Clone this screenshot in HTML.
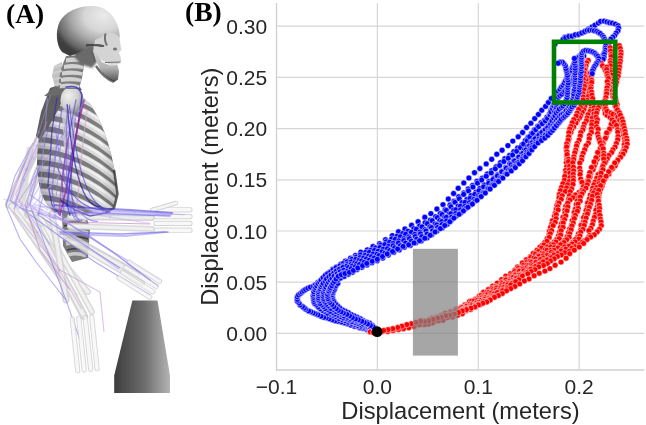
<!DOCTYPE html>
<html><head><meta charset="utf-8"><style>
html,body{margin:0;padding:0;background:#fff;}
body{width:646px;height:425px;overflow:hidden;}
svg{display:block;will-change:transform;}
text{font-family:"Liberation Sans",sans-serif;fill:#262626;}
</style></head><body>
<svg width="646" height="425" viewBox="0 0 646 425">
<rect width="646" height="425" fill="#fff"/>
<defs>
<linearGradient id="ped" x1="0" y1="0" x2="1" y2="0">
<stop offset="0" stop-color="#3c3c3c"/><stop offset="0.55" stop-color="#6e6e6e"/><stop offset="1" stop-color="#b4b4b4"/>
</linearGradient>
<linearGradient id="pedv" x1="0" y1="0" x2="0" y2="1">
<stop offset="0" stop-color="#fff" stop-opacity="0.12"/><stop offset="1" stop-color="#000" stop-opacity="0.05"/>
</linearGradient>
<radialGradient id="skullg" cx="0.74" cy="0.2" r="0.86">
<stop offset="0" stop-color="#eaeaea"/><stop offset="0.35" stop-color="#d6d6d6"/><stop offset="0.6" stop-color="#a8a8a8"/><stop offset="0.85" stop-color="#6a6a6a"/><stop offset="1" stop-color="#404040"/>
</radialGradient>
<linearGradient id="mandg" x1="0" y1="0" x2="0" y2="1">
<stop offset="0" stop-color="#d0d0d0"/><stop offset="0.55" stop-color="#b4b4b4"/><stop offset="1" stop-color="#505050"/>
</linearGradient>
<linearGradient id="faceg" x1="0" y1="0" x2="1" y2="0">
<stop offset="0" stop-color="#9a9a9a"/><stop offset="0.6" stop-color="#d8d8d8"/><stop offset="1" stop-color="#bdbdbd"/>
</linearGradient>
<linearGradient id="ribg" x1="0" y1="0" x2="1" y2="0">
<stop offset="0" stop-color="#8a8a8a"/><stop offset="0.35" stop-color="#c4c4c4"/><stop offset="0.8" stop-color="#cfcfcf"/><stop offset="1" stop-color="#8c8c8c"/>
</linearGradient>
<radialGradient id="humg" cx="0.35" cy="0.35" r="0.7">
<stop offset="0" stop-color="#f0f0f0"/><stop offset="0.6" stop-color="#cfcfcf"/><stop offset="1" stop-color="#8a8a8a"/>
</radialGradient>
<linearGradient id="boneg" x1="0" y1="0" x2="0" y2="1">
<stop offset="0" stop-color="#f2f2f2"/><stop offset="0.5" stop-color="#e2e2e2"/><stop offset="1" stop-color="#c4c4c4"/>
</linearGradient>
<linearGradient id="ribshade" x1="0" y1="0" x2="1" y2="0">
<stop offset="0" stop-color="#000" stop-opacity="0.35"/><stop offset="0.3" stop-color="#000" stop-opacity="0.05"/><stop offset="0.75" stop-color="#000" stop-opacity="0"/><stop offset="1" stop-color="#000" stop-opacity="0.3"/>
</linearGradient>
<clipPath id="ribclip"><path d="M52,96 C62,88 80,92 90,104 C102,120 112,150 116,180 C118,196 116,206 110,211 L80,214 L55,212 C44,205 38,190 37,165 C37,140 42,112 52,96 Z"/></clipPath>
<filter id="bl1" x="-10%" y="-10%" width="120%" height="120%"><feGaussianBlur stdDeviation="0.6"/></filter>
<filter id="bl2" x="-10%" y="-10%" width="120%" height="120%"><feGaussianBlur stdDeviation="1.2"/></filter>
</defs>
<!-- lumbar spine -->
<g filter="url(#bl1)">
<path d="M62,212 L84,210 L90,228 L88,258 L72,262 L63,246 Z" fill="#7c7c7c"/>
<path d="M64,220 Q75,217 86,221 M65,232 Q76,229 88,233 M66,244 Q77,241 88,245 M68,255 Q77,252 86,256" stroke="#c8c8c8" stroke-width="3.5" fill="none"/>
<path d="M64,226 Q75,223 87,227 M66,238 Q77,235 88,239 M67,250 Q77,247 87,251" stroke="#3e3e3e" stroke-width="1.6" fill="none"/>
</g>
<!-- faint lower arms / hands -->
<g stroke-linecap="round" fill="none" opacity="0.85">
<path d="M46,126 L10,204" stroke="#cacaca" stroke-width="10"/>
<path d="M46,126 L10,204" stroke="#ececec" stroke-width="6"/>
<path d="M54,132 L22,212" stroke="#d0d0d0" stroke-width="8"/>
<path d="M54,132 L22,212" stroke="#eeeeee" stroke-width="4"/>
<path d="M12,206 L74,296" stroke="#cfcfcf" stroke-width="8"/>
<path d="M12,206 L74,296" stroke="#efefef" stroke-width="4"/>
<path d="M20,210 L88,292" stroke="#d6d6d6" stroke-width="6"/>
<path d="M20,210 L88,292" stroke="#f0f0f0" stroke-width="3"/>
<path d="M28,214 L100,254 L136,274" stroke="#cccccc" stroke-width="8"/>
<path d="M28,214 L100,254 L136,274" stroke="#ededed" stroke-width="4"/>
<path d="M36,220 L106,262 L142,283" stroke="#d2d2d2" stroke-width="6"/>
<path d="M36,220 L106,262 L142,283" stroke="#f0f0f0" stroke-width="3"/>
<path d="M30,150 L22,200" stroke="#d8d8d8" stroke-width="7"/>
<path d="M30,214 L84,316" stroke="#cdcdcd" stroke-width="8"/>
<path d="M30,214 L84,316" stroke="#eeeeee" stroke-width="4"/>
<path d="M40,216 L92,312" stroke="#d4d4d4" stroke-width="6"/>
<path d="M40,216 L92,312" stroke="#f0f0f0" stroke-width="3"/>
<path d="M52,214 L66,300" stroke="#d0d0d0" stroke-width="7"/>
<path d="M52,214 L66,300" stroke="#ededed" stroke-width="3.5"/>
</g>
<g opacity="0.6" fill="none" stroke-width="1.1">
<path d="M33,143 L15,176 L6,206 L20,239 L36,262 L66,300 L80,340" stroke="#8a7ae8"/>
<path d="M40,140 L22,180 L14,212 L60,270 L100,292 L104,332" stroke="#c09ad8"/>
<path d="M30,150 L10,200 L95,262 L150,295" stroke="#7a6af0"/>
<path d="M45,150 L30,195 L110,250 L160,280" stroke="#9a8af0"/>
<path d="M42,160 L25,205 L40,250 L70,290" stroke="#b080c8"/>
<path d="M50,170 L38,215 L120,268" stroke="#8070e0"/>
<path d="M38,135 L20,170 L12,200" stroke="#d0a0d0"/>
<path d="M48,140 L32,180 L26,210 L50,245" stroke="#a090e8"/>
</g>
<!-- hands lower -->
<g fill="none" stroke-linecap="round" opacity="0.75">
<g stroke="#c8c8c8" stroke-width="5.2"><path d="M156.0,209.8 L190.0,209.8"/><path d="M156.0,216.6 L190.0,216.6"/><path d="M156.0,223.4 L190.0,223.4"/><path d="M156.0,230.2 L190.0,230.2"/><path d="M128.9,262.1 L159.5,281.2"/><path d="M125.6,267.4 L156.2,286.4"/><path d="M122.4,272.6 L152.9,291.7"/><path d="M119.1,277.9 L149.6,297.0"/><path d="M91.7,317.0 L97.1,368.7"/><path d="M85.2,317.7 L90.7,369.4"/><path d="M78.8,318.3 L84.2,370.1"/><path d="M72.3,319.0 L77.7,370.7"/></g>
<g stroke="#f6f6f6" stroke-width="3.4"><path d="M156.0,209.8 L190.0,209.8"/><path d="M156.0,216.6 L190.0,216.6"/><path d="M156.0,223.4 L190.0,223.4"/><path d="M156.0,230.2 L190.0,230.2"/><path d="M128.9,262.1 L159.5,281.2"/><path d="M125.6,267.4 L156.2,286.4"/><path d="M122.4,272.6 L152.9,291.7"/><path d="M119.1,277.9 L149.6,297.0"/><path d="M91.7,317.0 L97.1,368.7"/><path d="M85.2,317.7 L90.7,369.4"/><path d="M78.8,318.3 L84.2,370.1"/><path d="M72.3,319.0 L77.7,370.7"/></g>
<path d="M152,210 L166,206 L176,203" stroke="#c4c4c4" stroke-width="4.5"/>
<path d="M152,210 L166,206 L176,203" stroke="#f4f4f4" stroke-width="2.8"/>
</g>
<!-- ribcage -->
<g clip-path="url(#ribclip)">
<rect x="30" y="85" width="95" height="135" fill="#7e7e7e"/>
<g stroke="#dcdcdc" stroke-width="6.2" fill="none" filter="url(#bl1)"><path d="M36,76.0 C60,77.0 92,86.0 124,118.0"/><path d="M36,87.5 C60,88.5 92,97.5 124,129.5"/><path d="M36,99.0 C60,100.0 92,109.0 124,141.0"/><path d="M36,110.5 C60,111.5 92,120.5 124,152.5"/><path d="M36,122.0 C60,123.0 92,132.0 124,164.0"/><path d="M36,133.5 C60,134.5 92,143.5 124,175.5"/><path d="M36,145.0 C60,146.0 92,155.0 124,187.0"/><path d="M36,156.5 C60,157.5 92,166.5 124,198.5"/><path d="M36,168.0 C60,169.0 92,178.0 124,210.0"/><path d="M36,179.5 C60,180.5 92,189.5 124,221.5"/><path d="M36,191.0 C60,192.0 92,201.0 124,233.0"/><path d="M36,202.5 C60,203.5 92,212.5 124,244.5"/><path d="M36,214.0 C60,215.0 92,224.0 124,256.0"/></g>
<g stroke="#fafafa" stroke-width="2.2" fill="none" opacity="0.75" transform="translate(0,-1.2)"><path d="M36,76.0 C60,77.0 92,86.0 124,118.0"/><path d="M36,87.5 C60,88.5 92,97.5 124,129.5"/><path d="M36,99.0 C60,100.0 92,109.0 124,141.0"/><path d="M36,110.5 C60,111.5 92,120.5 124,152.5"/><path d="M36,122.0 C60,123.0 92,132.0 124,164.0"/><path d="M36,133.5 C60,134.5 92,143.5 124,175.5"/><path d="M36,145.0 C60,146.0 92,155.0 124,187.0"/><path d="M36,156.5 C60,157.5 92,166.5 124,198.5"/><path d="M36,168.0 C60,169.0 92,178.0 124,210.0"/><path d="M36,179.5 C60,180.5 92,189.5 124,221.5"/><path d="M36,191.0 C60,192.0 92,201.0 124,233.0"/><path d="M36,202.5 C60,203.5 92,212.5 124,244.5"/><path d="M36,214.0 C60,215.0 92,224.0 124,256.0"/></g>
<rect x="30" y="85" width="95" height="135" fill="url(#ribshade)"/>
</g>
<path d="M114,170 L117.5,194 L114,208 L106,212" stroke="#3a3a3a" stroke-width="2.5" fill="none" opacity="0.8"/>
<!-- scapula -->
<path d="M50,88 L62,84 L66,92 L58,110 L48,128 L40,140 L36,136 L41,112 Z" fill="#5e5e5e" filter="url(#bl1)"/>
<path d="M44,96 L56,86 L78,84 L82,90 L64,95 Z" fill="#6a6a6a" filter="url(#bl1)"/>
<!-- humerus head + shaft -->
<path d="M62,110 L74,110 L76,150 L64,150 Z" fill="#cfcfcf" opacity="0.8"/>
<ellipse cx="72" cy="100" rx="11.5" ry="13.5" fill="url(#humg)"/>
<!-- neck -->
<g filter="url(#bl1)">
<path d="M54,66 L62,62 L62,88 L55,86 L52,76 Z" fill="#a8a8a8" opacity="0.7"/>
<path d="M66,56 L83,56 L84,66 L82,78 L79,89 L59,89 L59,78 L62,66 Z" fill="#7e7e7e"/>
<g fill="#d2d2d2">
<path d="M66,58.5 Q75,56 84,59.5 L83,62.5 Q75,61 66,62.5 Z"/>
<path d="M64,65 Q74,62.5 84,66 L83,69 Q74,67.5 64,69 Z"/>
<path d="M62,71.5 Q73,69 83,72.5 L82,75.5 Q73,74 62,75.5 Z"/>
<path d="M61,78 Q71,75.5 82,79 L80.5,82 Q71,80.5 61,82 Z"/>
<path d="M60,84.5 Q70,82 80,85.5 L78.5,88 Q70,87 60,88 Z"/>
</g>
<path d="M55,67 L62,65 M54,73 L61,71 M54,79 L60,78 M55,85 L60,84" stroke="#cfcfcf" stroke-width="2.2" stroke-linecap="round"/>
</g>
<!-- skull -->
<path d="M78,46 L94,44 L97,62 L92,68 L80,64 L74,56 Z" fill="#6a6a6a" filter="url(#bl2)"/>
<path d="M62,52 C56,45 55.5,31 59.5,22 C65,12 77,6 92,6 C104,6 113,13 117.5,25 C119.5,31 120,35 119.5,38 L108,40 L97,44 L88,48 L80,52 L70,56 Z" fill="url(#skullg)"/>
<path d="M58,30 C57,42 62,52 72,56 L80,52 C70,48 62,40 58,30 Z" fill="#3a3a3a" opacity="0.55" filter="url(#bl2)"/>
<path d="M95,40 L110,33 Q117,33 119.5,38 L120.5,45 L121.5,50 L118.5,52.5 L120.5,56 L121.2,62 L118,64.5 L110,65 L101,60 L93,52 Z" fill="#d4d4d4" filter="url(#bl1)"/>
<path d="M92,50 L96,60 L100,69 Q107,79 114.5,82 L118,79.5 L119,71 L117.5,65 L110,65.5 L102,62 L96,53 Z" fill="url(#mandg)"/>
<path d="M86,45.5 Q95,43.5 104,46.5" stroke="#3a3a3a" stroke-width="2.6" fill="none" opacity="0.8" filter="url(#bl1)"/>
<path d="M105.5,33.5 Q103.8,40 107,45.5" stroke="#4a4a4a" stroke-width="2" fill="none" opacity="0.7" filter="url(#bl1)"/>
<ellipse cx="115" cy="49" rx="2" ry="1.6" fill="#4a4a4a" opacity="0.7"/>
<path d="M105,62.5 L120.5,62" stroke="#555" stroke-width="1.1" opacity="0.8"/>
<path d="M96,66 Q104,78 114,82" stroke="#333" stroke-width="2.4" fill="none" opacity="0.7" filter="url(#bl1)"/>
<path d="M92,50 L95,62" stroke="#555" stroke-width="1.6" opacity="0.6" filter="url(#bl1)"/>
<!-- horizontal forearm & hand -->
<g stroke-linecap="round" fill="none">
<path d="M70,217 L152,218" stroke="#d4d4d4" stroke-width="6"/>
<path d="M70,226 L152,229" stroke="#dadada" stroke-width="6"/>
<path d="M70,217 L152,218" stroke="#ececec" stroke-width="3"/>
<path d="M70,226 L152,229" stroke="#f0f0f0" stroke-width="3"/>

</g>
<g fill="none" stroke-linecap="round">
<path d="M57,98 L52,130 L50,160 L48,185 L52,205 L60,215" stroke="#3a2ac0" stroke-width="1.4" opacity="0.7"/>
<path d="M66,87 Q80,84 82,96 L79,118 L74,150 L70,182 L67,205 L70,215" stroke="#3020c0" stroke-width="1.5" opacity="0.75"/>
<path d="M84,100 L78,125 L72,155 L66,190 L60,215" stroke="#a02a90" stroke-width="1.6" opacity="0.85"/>
<path d="M62,108 L56,150 L52,190 L55,212" stroke="#7060e0" stroke-width="1.4" opacity="0.65"/>
<path d="M87,110 L82,150 L79,185 L76,215" stroke="#d8a0d0" stroke-width="1.3" opacity="0.6"/>
<path d="M76,100 L68,140 L62,180 L64,212" stroke="#5040d0" stroke-width="1.3" opacity="0.6"/>
<path d="M70,104 L60,150 L56,200" stroke="#9070e0" stroke-width="1.1" opacity="0.5"/>
<path d="M55,205 L90,208 L130,210 L172,213" stroke="#3a2ad0" stroke-width="2.2" opacity="0.55"/>
<path d="M58,212 L120,214 L170,216" stroke="#6a5af0" stroke-width="1.6" opacity="0.6"/>
<path d="M60,232 L120,234 L168,232" stroke="#6a5af0" stroke-width="1.4" opacity="0.6"/>
<path d="M62,222 L150,224" stroke="#c070c0" stroke-width="1" opacity="0.6"/>
<path d="M55,215 L110,250 L150,280" stroke="#7a6af0" stroke-width="1.3" opacity="0.55"/>
<path d="M60,218 L118,256 L158,286" stroke="#9a8af0" stroke-width="1.1" opacity="0.5"/>
<path d="M48,130 L30,205 L66,300" stroke="#6a5ae8" stroke-width="1" opacity="0.5"/>
<path d="M60,200 L75,210 L90,216 L110,212" stroke="#2010a0" stroke-width="1.6" opacity="0.6"/>
</g>
<g fill="none" stroke-linecap="round"><path d="M58.1,177.5 L33.5,204.8 L149.6,223.3" stroke="#b8a8f4" stroke-width="1.2" opacity="0.47"/><circle cx="50.0" cy="186.5" r="1.4" fill="#b8a8f4" opacity="0.37"/><circle cx="41.9" cy="195.5" r="1.4" fill="#b8a8f4" opacity="0.37"/><circle cx="71.8" cy="210.9" r="1.4" fill="#b8a8f4" opacity="0.37"/><circle cx="110.1" cy="217.0" r="1.4" fill="#b8a8f4" opacity="0.37"/><path d="M47.4,98.6 L39.0,206.5 L184.0,214.6" stroke="#a898f4" stroke-width="1.4" opacity="0.45"/><circle cx="44.6" cy="134.2" r="1.4" fill="#a898f4" opacity="0.36"/><circle cx="41.9" cy="169.8" r="1.4" fill="#a898f4" opacity="0.36"/><circle cx="86.9" cy="209.1" r="1.4" fill="#a898f4" opacity="0.36"/><circle cx="134.7" cy="211.8" r="1.4" fill="#a898f4" opacity="0.36"/><path d="M74.2,221.1 L33.0,203.2" stroke="#b8a8f4" stroke-width="1.0" opacity="0.36"/><circle cx="60.6" cy="215.2" r="1.4" fill="#b8a8f4" opacity="0.29"/><circle cx="47.0" cy="209.3" r="1.4" fill="#b8a8f4" opacity="0.29"/><path d="M84.2,101.3 L28.8,206.1" stroke="#8878f0" stroke-width="1.3" opacity="0.36"/><circle cx="65.9" cy="135.9" r="1.4" fill="#8878f0" opacity="0.29"/><circle cx="47.6" cy="170.5" r="1.4" fill="#8878f0" opacity="0.29"/><path d="M85.2,100.8 L13.7,208.8" stroke="#9c8cf0" stroke-width="1.0" opacity="0.57"/><circle cx="61.6" cy="136.4" r="1.4" fill="#9c8cf0" opacity="0.46"/><circle cx="38.0" cy="172.1" r="1.4" fill="#9c8cf0" opacity="0.46"/><path d="M69.0,222.6 L22.7,208.4" stroke="#8878f0" stroke-width="1.0" opacity="0.57"/><circle cx="53.7" cy="217.9" r="1.4" fill="#8878f0" opacity="0.45"/><circle cx="38.5" cy="213.3" r="1.4" fill="#8878f0" opacity="0.45"/><path d="M50.6,95.3 L14.4,206.8" stroke="#a898f4" stroke-width="0.9" opacity="0.49"/><circle cx="38.6" cy="132.1" r="1.4" fill="#a898f4" opacity="0.39"/><circle cx="26.7" cy="168.9" r="1.4" fill="#a898f4" opacity="0.39"/><path d="M69.4,222.9 L27.2,203.1 L118.7,269.3" stroke="#a898f4" stroke-width="1.3" opacity="0.52"/><circle cx="55.4" cy="216.3" r="1.4" fill="#a898f4" opacity="0.42"/><circle cx="41.5" cy="209.8" r="1.4" fill="#a898f4" opacity="0.42"/><circle cx="57.4" cy="224.9" r="1.4" fill="#a898f4" opacity="0.42"/><circle cx="87.6" cy="246.8" r="1.4" fill="#a898f4" opacity="0.42"/><path d="M69.0,223.6 L15.4,200.8" stroke="#d8a8d8" stroke-width="1.3" opacity="0.45"/><circle cx="51.3" cy="216.1" r="1.4" fill="#d8a8d8" opacity="0.36"/><circle cx="33.6" cy="208.6" r="1.4" fill="#d8a8d8" opacity="0.36"/><path d="M42.9,136.9 L14.6,202.4" stroke="#a898f4" stroke-width="1.4" opacity="0.42"/><circle cx="33.6" cy="158.5" r="1.4" fill="#a898f4" opacity="0.34"/><circle cx="24.2" cy="180.1" r="1.4" fill="#a898f4" opacity="0.34"/><path d="M71.0,222.9 L4.0,199.3" stroke="#a898f4" stroke-width="1.1" opacity="0.43"/><circle cx="48.9" cy="215.1" r="1.4" fill="#a898f4" opacity="0.35"/><circle cx="26.8" cy="207.3" r="1.4" fill="#a898f4" opacity="0.35"/><path d="M47.0,121.8 L15.7,194.5 L81.4,308.7" stroke="#c090d0" stroke-width="1.3" opacity="0.40"/><circle cx="36.7" cy="145.8" r="1.4" fill="#c090d0" opacity="0.32"/><circle cx="26.3" cy="169.8" r="1.4" fill="#c090d0" opacity="0.32"/><circle cx="37.4" cy="232.2" r="1.4" fill="#c090d0" opacity="0.32"/><circle cx="59.0" cy="269.9" r="1.4" fill="#c090d0" opacity="0.32"/><path d="M67.2,104.6 Q75.8,208.6 100.3,206.6" stroke="#2818b0" stroke-width="1.4" opacity="0.69"/><path d="M67.1,109.7 Q63.2,218.8 75.3,216.8" stroke="#6a5af0" stroke-width="1.0" opacity="0.68"/><path d="M75.5,118.4 Q63.0,209.0 66.5,207.0" stroke="#4a3ae0" stroke-width="1.0" opacity="0.42"/><path d="M55.1,127.2 Q68.5,223.4 97.8,221.4" stroke="#6a5af0" stroke-width="1.2" opacity="0.54"/><path d="M57.4,167.3 Q74.4,212.0 107.3,210.0" stroke="#3a28d8" stroke-width="1.1" opacity="0.54"/><path d="M71.9,153.5 Q68.9,222.1 81.8,220.1" stroke="#4a3ae0" stroke-width="1.5" opacity="0.48"/><path d="M68.3,142.6 Q65.9,222.7 79.4,220.7" stroke="#6a5af0" stroke-width="1.4" opacity="0.45"/><path d="M69.4,105.9 Q81.5,210.8 109.6,208.8" stroke="#3a28d8" stroke-width="1.2" opacity="0.54"/><path d="M68.1,138.2 Q56.5,216.3 60.8,214.3" stroke="#9a40b0" stroke-width="1.8" opacity="0.56"/><path d="M90,212 L140,213 L170,214" stroke="#9a90f4" stroke-width="4" opacity="0.45"/><path d="M60,234 L125,236 L165,232" stroke="#8a80f0" stroke-width="2" opacity="0.5"/></g>

<!-- pedestal -->
<path d="M132.4,300.4 L157.5,300.4 L170,375.5 L170,393 L114.2,393 L114.2,375.5 Z" fill="url(#ped)"/>

<g stroke="#d6d6d6" stroke-width="1.2"><line x1="377.4" y1="3" x2="377.4" y2="370"/><line x1="478.3" y1="3" x2="478.3" y2="370"/><line x1="579.2" y1="3" x2="579.2" y2="370"/><line x1="276" y1="333.4" x2="644.3" y2="333.4"/><line x1="276" y1="282.2" x2="644.3" y2="282.2"/><line x1="276" y1="231.0" x2="644.3" y2="231.0"/><line x1="276" y1="179.8" x2="644.3" y2="179.8"/><line x1="276" y1="128.6" x2="644.3" y2="128.6"/><line x1="276" y1="77.4" x2="644.3" y2="77.4"/><line x1="276" y1="26.2" x2="644.3" y2="26.2"/></g>
<g stroke="#cfcfcf" stroke-width="1.3"><line x1="276.5" y1="3" x2="276.5" y2="370.5"/><line x1="276" y1="370" x2="644.3" y2="370"/></g>
<g fill="#0000ff" stroke="#fff" stroke-width="0.5"><circle cx="375.9" cy="331.6" r="2.95"/><circle cx="372.7" cy="331.0" r="2.95"/><circle cx="369.5" cy="330.1" r="2.95"/><circle cx="366.8" cy="329.5" r="2.95"/><circle cx="363.3" cy="328.4" r="2.95"/><circle cx="360.1" cy="327.9" r="2.95"/><circle cx="357.3" cy="326.5" r="2.95"/><circle cx="354.3" cy="326.2" r="2.95"/><circle cx="350.8" cy="325.1" r="2.95"/><circle cx="347.3" cy="323.7" r="2.95"/><circle cx="344.4" cy="322.9" r="2.95"/><circle cx="341.1" cy="322.1" r="2.95"/><circle cx="337.9" cy="321.3" r="2.95"/><circle cx="335.1" cy="320.7" r="2.95"/><circle cx="332.2" cy="319.7" r="2.95"/><circle cx="329.2" cy="318.8" r="2.95"/><circle cx="326.3" cy="317.7" r="2.95"/><circle cx="323.8" cy="317.3" r="2.95"/><circle cx="321.0" cy="316.2" r="2.95"/><circle cx="317.9" cy="314.8" r="2.95"/><circle cx="315.3" cy="313.7" r="2.95"/><circle cx="313.2" cy="312.9" r="2.95"/><circle cx="310.8" cy="311.8" r="2.95"/><circle cx="308.6" cy="310.9" r="2.95"/><circle cx="305.7" cy="309.2" r="2.95"/><circle cx="304.3" cy="308.0" r="2.95"/><circle cx="302.5" cy="306.5" r="2.95"/><circle cx="300.1" cy="305.0" r="2.95"/><circle cx="299.1" cy="303.1" r="2.95"/><circle cx="297.4" cy="301.2" r="2.95"/><circle cx="297.3" cy="299.4" r="2.95"/><circle cx="297.3" cy="296.9" r="2.95"/><circle cx="298.5" cy="295.0" r="2.95"/><circle cx="300.6" cy="293.4" r="2.95"/><circle cx="302.1" cy="292.1" r="2.95"/><circle cx="303.7" cy="290.8" r="2.95"/><circle cx="305.6" cy="289.5" r="2.95"/><circle cx="307.9" cy="288.3" r="2.95"/><circle cx="310.4" cy="287.2" r="2.95"/><circle cx="313.5" cy="286.3" r="2.95"/><circle cx="315.4" cy="284.7" r="2.95"/><circle cx="317.8" cy="282.4" r="2.95"/><circle cx="320.9" cy="280.3" r="2.95"/><circle cx="323.1" cy="278.1" r="2.95"/><circle cx="325.9" cy="274.9" r="2.95"/><circle cx="329.5" cy="272.2" r="2.95"/><circle cx="332.7" cy="269.3" r="2.95"/><circle cx="336.5" cy="267.0" r="2.95"/><circle cx="340.8" cy="264.1" r="2.95"/><circle cx="345.3" cy="261.1" r="2.95"/><circle cx="350.5" cy="258.1" r="2.95"/><circle cx="355.5" cy="255.4" r="2.95"/><circle cx="360.8" cy="252.2" r="2.95"/><circle cx="367.3" cy="249.9" r="2.95"/><circle cx="373.0" cy="246.5" r="2.95"/><circle cx="379.6" cy="243.6" r="2.95"/><circle cx="385.5" cy="239.7" r="2.95"/><circle cx="392.3" cy="235.6" r="2.95"/><circle cx="398.5" cy="231.8" r="2.95"/><circle cx="404.9" cy="229.0" r="2.95"/><circle cx="411.6" cy="225.3" r="2.95"/><circle cx="418.1" cy="221.7" r="2.95"/><circle cx="424.8" cy="217.3" r="2.95"/><circle cx="430.9" cy="213.6" r="2.95"/><circle cx="436.9" cy="209.0" r="2.95"/><circle cx="443.0" cy="204.6" r="2.95"/><circle cx="448.3" cy="199.0" r="2.95"/><circle cx="453.6" cy="193.5" r="2.95"/><circle cx="458.2" cy="188.3" r="2.95"/><circle cx="463.8" cy="182.9" r="2.95"/><circle cx="468.9" cy="178.0" r="2.95"/><circle cx="474.5" cy="172.7" r="2.95"/><circle cx="479.9" cy="168.5" r="2.95"/><circle cx="486.2" cy="163.9" r="2.95"/><circle cx="491.7" cy="159.3" r="2.95"/><circle cx="496.8" cy="154.2" r="2.95"/><circle cx="502.1" cy="150.2" r="2.95"/><circle cx="507.9" cy="145.6" r="2.95"/><circle cx="512.8" cy="141.1" r="2.95"/><circle cx="518.2" cy="136.8" r="2.95"/><circle cx="522.6" cy="132.5" r="2.95"/><circle cx="526.6" cy="127.5" r="2.95"/><circle cx="530.9" cy="123.2" r="2.95"/><circle cx="534.7" cy="118.6" r="2.95"/><circle cx="538.4" cy="114.4" r="2.95"/><circle cx="541.8" cy="110.2" r="2.95"/><circle cx="545.6" cy="106.4" r="2.95"/><circle cx="548.4" cy="102.5" r="2.95"/><circle cx="551.3" cy="98.5" r="2.95"/><circle cx="555.0" cy="43.9" r="2.95"/><circle cx="562.7" cy="39.9" r="2.95"/><circle cx="564.8" cy="37.2" r="2.95"/><circle cx="568.7" cy="36.3" r="2.95"/><circle cx="573.5" cy="35.9" r="2.95"/><circle cx="577.6" cy="34.9" r="2.95"/><circle cx="581.4" cy="32.9" r="2.95"/><circle cx="585.2" cy="31.0" r="2.95"/><circle cx="588.5" cy="29.0" r="2.95"/><circle cx="592.0" cy="27.0" r="2.95"/><circle cx="594.9" cy="25.2" r="2.95"/><circle cx="598.3" cy="23.1" r="2.95"/><circle cx="600.6" cy="21.4" r="2.95"/><circle cx="604.2" cy="21.1" r="2.95"/><circle cx="607.0" cy="21.9" r="2.95"/><circle cx="609.6" cy="22.7" r="2.95"/><circle cx="612.3" cy="23.1" r="2.95"/><circle cx="615.3" cy="24.1" r="2.95"/><circle cx="618.0" cy="25.7" r="2.95"/><circle cx="618.6" cy="28.0" r="2.95"/><circle cx="617.9" cy="30.8" r="2.95"/><circle cx="616.1" cy="33.1" r="2.95"/><circle cx="614.6" cy="35.6" r="2.95"/><circle cx="612.8" cy="37.2" r="2.95"/><circle cx="610.7" cy="39.2" r="2.95"/><circle cx="608.9" cy="41.8" r="2.95"/><circle cx="608.3" cy="44.1" r="2.95"/><circle cx="606.9" cy="46.8" r="2.95"/><circle cx="606.0" cy="49.4" r="2.95"/><circle cx="604.7" cy="52.1" r="2.95"/><circle cx="603.4" cy="54.5" r="2.95"/><circle cx="603.0" cy="56.5" r="2.95"/><circle cx="602.4" cy="59.4" r="2.95"/><circle cx="601.2" cy="61.7" r="2.95"/><circle cx="376.6" cy="331.9" r="2.95"/><circle cx="374.3" cy="331.1" r="2.95"/><circle cx="371.3" cy="329.8" r="2.95"/><circle cx="368.0" cy="328.6" r="2.95"/><circle cx="364.8" cy="327.9" r="2.95"/><circle cx="361.4" cy="326.7" r="2.95"/><circle cx="357.8" cy="325.7" r="2.95"/><circle cx="355.1" cy="324.6" r="2.95"/><circle cx="351.5" cy="323.3" r="2.95"/><circle cx="348.1" cy="322.2" r="2.95"/><circle cx="345.3" cy="320.6" r="2.95"/><circle cx="341.6" cy="319.5" r="2.95"/><circle cx="338.8" cy="318.5" r="2.95"/><circle cx="335.7" cy="316.7" r="2.95"/><circle cx="333.0" cy="315.4" r="2.95"/><circle cx="330.2" cy="314.1" r="2.95"/><circle cx="327.2" cy="313.2" r="2.95"/><circle cx="324.4" cy="311.3" r="2.95"/><circle cx="322.3" cy="310.3" r="2.95"/><circle cx="320.2" cy="308.8" r="2.95"/><circle cx="318.2" cy="307.0" r="2.95"/><circle cx="316.5" cy="305.0" r="2.95"/><circle cx="314.7" cy="303.4" r="2.95"/><circle cx="313.9" cy="301.5" r="2.95"/><circle cx="313.7" cy="299.4" r="2.95"/><circle cx="313.6" cy="297.4" r="2.95"/><circle cx="313.2" cy="295.3" r="2.95"/><circle cx="313.9" cy="293.8" r="2.95"/><circle cx="313.9" cy="291.8" r="2.95"/><circle cx="315.1" cy="289.8" r="2.95"/><circle cx="315.7" cy="287.6" r="2.95"/><circle cx="316.8" cy="285.9" r="2.95"/><circle cx="318.1" cy="283.6" r="2.95"/><circle cx="319.8" cy="282.0" r="2.95"/><circle cx="321.1" cy="280.1" r="2.95"/><circle cx="323.1" cy="277.8" r="2.95"/><circle cx="325.3" cy="275.4" r="2.95"/><circle cx="327.7" cy="273.6" r="2.95"/><circle cx="330.7" cy="271.9" r="2.95"/><circle cx="333.1" cy="269.6" r="2.95"/><circle cx="336.1" cy="267.6" r="2.95"/><circle cx="340.0" cy="265.8" r="2.95"/><circle cx="343.4" cy="263.5" r="2.95"/><circle cx="347.1" cy="261.8" r="2.95"/><circle cx="351.9" cy="259.3" r="2.95"/><circle cx="356.3" cy="257.0" r="2.95"/><circle cx="360.5" cy="254.8" r="2.95"/><circle cx="365.7" cy="252.5" r="2.95"/><circle cx="370.5" cy="250.3" r="2.95"/><circle cx="375.6" cy="247.9" r="2.95"/><circle cx="380.8" cy="244.9" r="2.95"/><circle cx="386.2" cy="241.7" r="2.95"/><circle cx="391.7" cy="238.9" r="2.95"/><circle cx="397.0" cy="236.2" r="2.95"/><circle cx="402.7" cy="233.5" r="2.95"/><circle cx="408.0" cy="231.2" r="2.95"/><circle cx="413.9" cy="228.6" r="2.95"/><circle cx="419.6" cy="226.0" r="2.95"/><circle cx="425.1" cy="222.8" r="2.95"/><circle cx="430.3" cy="220.1" r="2.95"/><circle cx="435.7" cy="216.6" r="2.95"/><circle cx="440.4" cy="213.5" r="2.95"/><circle cx="445.1" cy="209.7" r="2.95"/><circle cx="450.0" cy="205.0" r="2.95"/><circle cx="454.1" cy="201.2" r="2.95"/><circle cx="458.7" cy="196.8" r="2.95"/><circle cx="463.7" cy="193.0" r="2.95"/><circle cx="468.2" cy="188.9" r="2.95"/><circle cx="472.6" cy="185.4" r="2.95"/><circle cx="477.0" cy="181.2" r="2.95"/><circle cx="482.3" cy="178.1" r="2.95"/><circle cx="487.3" cy="174.0" r="2.95"/><circle cx="491.7" cy="170.7" r="2.95"/><circle cx="496.2" cy="166.8" r="2.95"/><circle cx="500.5" cy="162.6" r="2.95"/><circle cx="504.8" cy="158.7" r="2.95"/><circle cx="509.5" cy="155.4" r="2.95"/><circle cx="513.8" cy="151.6" r="2.95"/><circle cx="517.6" cy="148.0" r="2.95"/><circle cx="521.9" cy="144.9" r="2.95"/><circle cx="525.4" cy="140.5" r="2.95"/><circle cx="528.1" cy="137.3" r="2.95"/><circle cx="531.5" cy="133.4" r="2.95"/><circle cx="534.5" cy="129.6" r="2.95"/><circle cx="537.7" cy="126.1" r="2.95"/><circle cx="541.1" cy="122.7" r="2.95"/><circle cx="544.4" cy="120.4" r="2.95"/><circle cx="546.9" cy="117.2" r="2.95"/><circle cx="549.5" cy="113.9" r="2.95"/><circle cx="550.8" cy="110.4" r="2.95"/><circle cx="552.3" cy="107.1" r="2.95"/><circle cx="553.8" cy="104.6" r="2.95"/><circle cx="554.7" cy="101.7" r="2.95"/><circle cx="556.6" cy="96.0" r="2.95"/><circle cx="557.9" cy="93.7" r="2.95"/><circle cx="558.5" cy="91.5" r="2.95"/><circle cx="560.1" cy="89.3" r="2.95"/><circle cx="561.5" cy="87.0" r="2.95"/><circle cx="563.0" cy="85.4" r="2.95"/><circle cx="564.2" cy="83.2" r="2.95"/><circle cx="565.4" cy="80.9" r="2.95"/><circle cx="566.6" cy="78.5" r="2.95"/><circle cx="567.5" cy="76.6" r="2.95"/><circle cx="568.4" cy="74.4" r="2.95"/><circle cx="570.0" cy="72.4" r="2.95"/><circle cx="570.8" cy="70.4" r="2.95"/><circle cx="572.2" cy="67.8" r="2.95"/><circle cx="573.2" cy="65.8" r="2.95"/><circle cx="574.1" cy="63.4" r="2.95"/><circle cx="575.5" cy="61.4" r="2.95"/><circle cx="576.7" cy="59.4" r="2.95"/><circle cx="578.4" cy="57.0" r="2.95"/><circle cx="579.9" cy="55.8" r="2.95"/><circle cx="581.9" cy="55.0" r="2.95"/><circle cx="583.8" cy="56.1" r="2.95"/><circle cx="374.7" cy="330.8" r="2.95"/><circle cx="372.3" cy="329.2" r="2.95"/><circle cx="369.7" cy="327.9" r="2.95"/><circle cx="366.6" cy="326.8" r="2.95"/><circle cx="363.4" cy="325.2" r="2.95"/><circle cx="360.1" cy="324.5" r="2.95"/><circle cx="356.6" cy="323.4" r="2.95"/><circle cx="353.5" cy="321.9" r="2.95"/><circle cx="350.4" cy="320.7" r="2.95"/><circle cx="347.7" cy="319.2" r="2.95"/><circle cx="344.9" cy="318.2" r="2.95"/><circle cx="341.6" cy="317.1" r="2.95"/><circle cx="338.6" cy="315.6" r="2.95"/><circle cx="336.0" cy="314.5" r="2.95"/><circle cx="333.0" cy="313.2" r="2.95"/><circle cx="330.5" cy="311.2" r="2.95"/><circle cx="328.0" cy="309.8" r="2.95"/><circle cx="325.6" cy="308.8" r="2.95"/><circle cx="323.7" cy="307.3" r="2.95"/><circle cx="322.1" cy="305.0" r="2.95"/><circle cx="320.7" cy="303.8" r="2.95"/><circle cx="319.0" cy="301.8" r="2.95"/><circle cx="318.6" cy="299.5" r="2.95"/><circle cx="318.7" cy="297.4" r="2.95"/><circle cx="318.3" cy="296.0" r="2.95"/><circle cx="318.7" cy="293.8" r="2.95"/><circle cx="319.3" cy="292.2" r="2.95"/><circle cx="319.6" cy="289.9" r="2.95"/><circle cx="320.4" cy="288.4" r="2.95"/><circle cx="321.1" cy="286.2" r="2.95"/><circle cx="322.5" cy="284.4" r="2.95"/><circle cx="323.7" cy="282.9" r="2.95"/><circle cx="325.3" cy="280.6" r="2.95"/><circle cx="327.2" cy="278.6" r="2.95"/><circle cx="329.4" cy="276.7" r="2.95"/><circle cx="332.0" cy="274.9" r="2.95"/><circle cx="334.5" cy="272.4" r="2.95"/><circle cx="337.0" cy="270.8" r="2.95"/><circle cx="340.6" cy="268.5" r="2.95"/><circle cx="343.7" cy="266.0" r="2.95"/><circle cx="347.6" cy="264.0" r="2.95"/><circle cx="351.5" cy="261.8" r="2.95"/><circle cx="355.9" cy="259.2" r="2.95"/><circle cx="360.0" cy="257.6" r="2.95"/><circle cx="365.1" cy="255.3" r="2.95"/><circle cx="369.4" cy="252.4" r="2.95"/><circle cx="374.5" cy="250.4" r="2.95"/><circle cx="379.9" cy="247.5" r="2.95"/><circle cx="384.9" cy="244.6" r="2.95"/><circle cx="389.7" cy="242.2" r="2.95"/><circle cx="395.2" cy="239.4" r="2.95"/><circle cx="400.3" cy="236.8" r="2.95"/><circle cx="405.6" cy="234.2" r="2.95"/><circle cx="411.4" cy="232.2" r="2.95"/><circle cx="416.3" cy="229.2" r="2.95"/><circle cx="422.1" cy="226.9" r="2.95"/><circle cx="427.3" cy="223.7" r="2.95"/><circle cx="432.2" cy="220.7" r="2.95"/><circle cx="437.4" cy="217.6" r="2.95"/><circle cx="442.1" cy="214.5" r="2.95"/><circle cx="446.4" cy="210.4" r="2.95"/><circle cx="451.0" cy="206.7" r="2.95"/><circle cx="455.1" cy="202.3" r="2.95"/><circle cx="459.3" cy="198.8" r="2.95"/><circle cx="463.7" cy="194.4" r="2.95"/><circle cx="468.5" cy="190.9" r="2.95"/><circle cx="473.0" cy="187.0" r="2.95"/><circle cx="477.5" cy="183.1" r="2.95"/><circle cx="481.7" cy="180.0" r="2.95"/><circle cx="486.2" cy="176.2" r="2.95"/><circle cx="491.2" cy="172.9" r="2.95"/><circle cx="495.3" cy="168.8" r="2.95"/><circle cx="499.6" cy="165.5" r="2.95"/><circle cx="503.9" cy="161.5" r="2.95"/><circle cx="508.3" cy="158.2" r="2.95"/><circle cx="512.6" cy="155.0" r="2.95"/><circle cx="516.7" cy="151.2" r="2.95"/><circle cx="520.4" cy="147.6" r="2.95"/><circle cx="523.5" cy="144.0" r="2.95"/><circle cx="527.1" cy="140.7" r="2.95"/><circle cx="529.7" cy="136.7" r="2.95"/><circle cx="532.8" cy="133.2" r="2.95"/><circle cx="535.8" cy="129.7" r="2.95"/><circle cx="538.7" cy="126.6" r="2.95"/><circle cx="542.3" cy="123.7" r="2.95"/><circle cx="545.4" cy="121.0" r="2.95"/><circle cx="547.6" cy="118.3" r="2.95"/><circle cx="550.1" cy="114.9" r="2.95"/><circle cx="551.0" cy="111.9" r="2.95"/><circle cx="552.6" cy="108.9" r="2.95"/><circle cx="553.9" cy="106.1" r="2.95"/><circle cx="554.7" cy="103.0" r="2.95"/><circle cx="555.6" cy="101.0" r="2.95"/><circle cx="556.5" cy="98.4" r="2.95"/><circle cx="558.5" cy="97.3" r="2.95"/><circle cx="559.9" cy="95.6" r="2.95"/><circle cx="561.8" cy="94.2" r="2.95"/><circle cx="563.7" cy="92.1" r="2.95"/><circle cx="564.9" cy="90.6" r="2.95"/><circle cx="566.6" cy="88.8" r="2.95"/><circle cx="567.9" cy="86.6" r="2.95"/><circle cx="569.6" cy="84.8" r="2.95"/><circle cx="570.5" cy="82.7" r="2.95"/><circle cx="571.8" cy="80.8" r="2.95"/><circle cx="573.0" cy="78.5" r="2.95"/><circle cx="574.0" cy="76.6" r="2.95"/><circle cx="574.9" cy="74.5" r="2.95"/><circle cx="575.7" cy="72.3" r="2.95"/><circle cx="576.4" cy="69.9" r="2.95"/><circle cx="576.5" cy="67.6" r="2.95"/><circle cx="577.0" cy="65.1" r="2.95"/><circle cx="577.1" cy="62.6" r="2.95"/><circle cx="577.8" cy="60.8" r="2.95"/><circle cx="577.9" cy="57.9" r="2.95"/><circle cx="375.5" cy="331.3" r="2.95"/><circle cx="372.9" cy="329.5" r="2.95"/><circle cx="370.2" cy="328.4" r="2.95"/><circle cx="367.7" cy="326.9" r="2.95"/><circle cx="364.2" cy="326.0" r="2.95"/><circle cx="361.5" cy="325.2" r="2.95"/><circle cx="358.0" cy="323.4" r="2.95"/><circle cx="355.1" cy="322.3" r="2.95"/><circle cx="352.1" cy="321.5" r="2.95"/><circle cx="349.3" cy="320.0" r="2.95"/><circle cx="346.1" cy="318.8" r="2.95"/><circle cx="343.2" cy="318.0" r="2.95"/><circle cx="340.4" cy="316.6" r="2.95"/><circle cx="337.9" cy="315.3" r="2.95"/><circle cx="334.8" cy="314.2" r="2.95"/><circle cx="332.7" cy="312.5" r="2.95"/><circle cx="330.0" cy="311.5" r="2.95"/><circle cx="327.6" cy="309.5" r="2.95"/><circle cx="325.1" cy="308.6" r="2.95"/><circle cx="323.6" cy="306.6" r="2.95"/><circle cx="321.7" cy="305.0" r="2.95"/><circle cx="320.0" cy="303.5" r="2.95"/><circle cx="319.3" cy="301.1" r="2.95"/><circle cx="318.2" cy="299.4" r="2.95"/><circle cx="318.2" cy="297.7" r="2.95"/><circle cx="318.5" cy="295.7" r="2.95"/><circle cx="318.3" cy="293.6" r="2.95"/><circle cx="318.8" cy="291.9" r="2.95"/><circle cx="319.8" cy="290.3" r="2.95"/><circle cx="320.4" cy="288.9" r="2.95"/><circle cx="321.0" cy="286.8" r="2.95"/><circle cx="322.1" cy="285.1" r="2.95"/><circle cx="323.2" cy="283.3" r="2.95"/><circle cx="325.3" cy="281.3" r="2.95"/><circle cx="326.4" cy="279.0" r="2.95"/><circle cx="328.9" cy="276.8" r="2.95"/><circle cx="331.0" cy="275.1" r="2.95"/><circle cx="333.8" cy="273.1" r="2.95"/><circle cx="336.5" cy="270.9" r="2.95"/><circle cx="339.5" cy="269.1" r="2.95"/><circle cx="343.1" cy="267.3" r="2.95"/><circle cx="347.0" cy="266.0" r="2.95"/><circle cx="350.9" cy="264.6" r="2.95"/><circle cx="354.8" cy="262.8" r="2.95"/><circle cx="359.2" cy="260.2" r="2.95"/><circle cx="363.5" cy="258.0" r="2.95"/><circle cx="368.5" cy="256.1" r="2.95"/><circle cx="373.3" cy="253.9" r="2.95"/><circle cx="378.1" cy="251.3" r="2.95"/><circle cx="383.3" cy="249.1" r="2.95"/><circle cx="388.6" cy="246.2" r="2.95"/><circle cx="393.1" cy="243.4" r="2.95"/><circle cx="398.8" cy="240.8" r="2.95"/><circle cx="403.9" cy="238.7" r="2.95"/><circle cx="408.9" cy="236.9" r="2.95"/><circle cx="414.8" cy="234.3" r="2.95"/><circle cx="420.0" cy="232.0" r="2.95"/><circle cx="425.0" cy="229.6" r="2.95"/><circle cx="430.0" cy="226.7" r="2.95"/><circle cx="435.1" cy="224.0" r="2.95"/><circle cx="439.8" cy="220.5" r="2.95"/><circle cx="444.8" cy="217.2" r="2.95"/><circle cx="449.4" cy="213.7" r="2.95"/><circle cx="453.6" cy="209.9" r="2.95"/><circle cx="458.1" cy="206.1" r="2.95"/><circle cx="462.1" cy="202.5" r="2.95"/><circle cx="466.9" cy="199.4" r="2.95"/><circle cx="471.0" cy="195.6" r="2.95"/><circle cx="475.9" cy="192.2" r="2.95"/><circle cx="479.8" cy="188.5" r="2.95"/><circle cx="484.3" cy="185.0" r="2.95"/><circle cx="488.9" cy="181.5" r="2.95"/><circle cx="493.6" cy="178.2" r="2.95"/><circle cx="497.6" cy="174.8" r="2.95"/><circle cx="501.9" cy="171.3" r="2.95"/><circle cx="505.7" cy="167.4" r="2.95"/><circle cx="509.8" cy="163.7" r="2.95"/><circle cx="513.8" cy="160.8" r="2.95"/><circle cx="518.1" cy="157.5" r="2.95"/><circle cx="521.4" cy="153.9" r="2.95"/><circle cx="524.2" cy="150.2" r="2.95"/><circle cx="527.5" cy="146.9" r="2.95"/><circle cx="530.4" cy="143.1" r="2.95"/><circle cx="533.6" cy="140.0" r="2.95"/><circle cx="536.7" cy="136.6" r="2.95"/><circle cx="539.4" cy="133.7" r="2.95"/><circle cx="543.1" cy="131.0" r="2.95"/><circle cx="545.8" cy="128.4" r="2.95"/><circle cx="548.2" cy="125.9" r="2.95"/><circle cx="550.7" cy="122.7" r="2.95"/><circle cx="552.0" cy="120.0" r="2.95"/><circle cx="552.9" cy="117.2" r="2.95"/><circle cx="554.2" cy="113.9" r="2.95"/><circle cx="554.7" cy="111.3" r="2.95"/><circle cx="555.8" cy="109.1" r="2.95"/><circle cx="556.1" cy="107.0" r="2.95"/><circle cx="556.0" cy="104.4" r="2.95"/><circle cx="555.1" cy="102.6" r="2.95"/><circle cx="563.3" cy="39.2" r="2.95"/><circle cx="565.7" cy="37.7" r="2.95"/><circle cx="568.9" cy="36.5" r="2.95"/><circle cx="572.1" cy="36.2" r="2.95"/><circle cx="575.3" cy="34.8" r="2.95"/><circle cx="578.7" cy="34.3" r="2.95"/><circle cx="581.7" cy="33.0" r="2.95"/><circle cx="584.6" cy="31.7" r="2.95"/><circle cx="587.2" cy="30.4" r="2.95"/><circle cx="589.5" cy="30.2" r="2.95"/><circle cx="592.2" cy="30.1" r="2.95"/><circle cx="594.3" cy="30.8" r="2.95"/><circle cx="596.7" cy="31.3" r="2.95"/><circle cx="598.6" cy="32.5" r="2.95"/><circle cx="600.4" cy="33.6" r="2.95"/><circle cx="602.6" cy="35.7" r="2.95"/><circle cx="603.9" cy="37.4" r="2.95"/><circle cx="604.7" cy="39.4" r="2.95"/><circle cx="605.4" cy="41.5" r="2.95"/><circle cx="606.0" cy="43.9" r="2.95"/><circle cx="605.7" cy="46.1" r="2.95"/><circle cx="605.4" cy="48.2" r="2.95"/><circle cx="605.6" cy="50.1" r="2.95"/><circle cx="604.7" cy="52.6" r="2.95"/><circle cx="604.2" cy="54.6" r="2.95"/><circle cx="604.0" cy="57.4" r="2.95"/><circle cx="603.1" cy="59.3" r="2.95"/><circle cx="374.6" cy="330.1" r="2.95"/><circle cx="372.3" cy="328.0" r="2.95"/><circle cx="369.9" cy="326.8" r="2.95"/><circle cx="366.4" cy="324.9" r="2.95"/><circle cx="363.1" cy="324.1" r="2.95"/><circle cx="360.3" cy="322.3" r="2.95"/><circle cx="357.1" cy="321.0" r="2.95"/><circle cx="353.7" cy="319.6" r="2.95"/><circle cx="350.8" cy="318.8" r="2.95"/><circle cx="347.2" cy="317.3" r="2.95"/><circle cx="344.1" cy="316.1" r="2.95"/><circle cx="341.1" cy="314.1" r="2.95"/><circle cx="338.6" cy="312.8" r="2.95"/><circle cx="336.0" cy="311.6" r="2.95"/><circle cx="333.3" cy="309.5" r="2.95"/><circle cx="330.9" cy="308.4" r="2.95"/><circle cx="328.5" cy="306.0" r="2.95"/><circle cx="326.4" cy="304.3" r="2.95"/><circle cx="325.2" cy="302.2" r="2.95"/><circle cx="323.7" cy="300.2" r="2.95"/><circle cx="323.4" cy="298.5" r="2.95"/><circle cx="323.1" cy="296.3" r="2.95"/><circle cx="323.6" cy="294.3" r="2.95"/><circle cx="323.6" cy="292.2" r="2.95"/><circle cx="324.7" cy="290.6" r="2.95"/><circle cx="325.0" cy="288.8" r="2.95"/><circle cx="325.8" cy="287.1" r="2.95"/><circle cx="327.2" cy="284.9" r="2.95"/><circle cx="328.6" cy="282.5" r="2.95"/><circle cx="330.3" cy="280.6" r="2.95"/><circle cx="332.0" cy="278.8" r="2.95"/><circle cx="334.2" cy="276.1" r="2.95"/><circle cx="337.3" cy="273.8" r="2.95"/><circle cx="340.2" cy="271.8" r="2.95"/><circle cx="343.9" cy="270.2" r="2.95"/><circle cx="348.5" cy="267.6" r="2.95"/><circle cx="352.4" cy="266.0" r="2.95"/><circle cx="356.8" cy="263.8" r="2.95"/><circle cx="361.5" cy="261.0" r="2.95"/><circle cx="366.4" cy="259.0" r="2.95"/><circle cx="371.4" cy="256.8" r="2.95"/><circle cx="377.0" cy="254.3" r="2.95"/><circle cx="382.1" cy="251.8" r="2.95"/><circle cx="387.5" cy="248.7" r="2.95"/><circle cx="393.1" cy="245.7" r="2.95"/><circle cx="398.4" cy="243.0" r="2.95"/><circle cx="403.8" cy="240.6" r="2.95"/><circle cx="409.4" cy="238.7" r="2.95"/><circle cx="415.3" cy="236.5" r="2.95"/><circle cx="420.5" cy="233.8" r="2.95"/><circle cx="426.0" cy="231.0" r="2.95"/><circle cx="431.5" cy="227.6" r="2.95"/><circle cx="436.8" cy="224.9" r="2.95"/><circle cx="441.8" cy="221.6" r="2.95"/><circle cx="446.4" cy="217.3" r="2.95"/><circle cx="450.9" cy="213.7" r="2.95"/><circle cx="455.8" cy="209.7" r="2.95"/><circle cx="460.4" cy="206.2" r="2.95"/><circle cx="465.0" cy="202.4" r="2.95"/><circle cx="470.0" cy="198.4" r="2.95"/><circle cx="474.8" cy="194.4" r="2.95"/><circle cx="479.0" cy="190.7" r="2.95"/><circle cx="483.6" cy="186.9" r="2.95"/><circle cx="488.7" cy="183.3" r="2.95"/><circle cx="493.0" cy="179.6" r="2.95"/><circle cx="497.4" cy="175.9" r="2.95"/><circle cx="501.8" cy="171.8" r="2.95"/><circle cx="506.2" cy="168.3" r="2.95"/><circle cx="511.0" cy="164.7" r="2.95"/><circle cx="514.6" cy="160.9" r="2.95"/><circle cx="518.8" cy="157.1" r="2.95"/><circle cx="522.9" cy="153.3" r="2.95"/><circle cx="525.9" cy="150.0" r="2.95"/><circle cx="529.5" cy="145.8" r="2.95"/><circle cx="532.3" cy="142.6" r="2.95"/><circle cx="535.1" cy="138.7" r="2.95"/><circle cx="538.9" cy="135.3" r="2.95"/><circle cx="541.9" cy="132.5" r="2.95"/><circle cx="545.2" cy="129.7" r="2.95"/><circle cx="547.8" cy="127.6" r="2.95"/><circle cx="550.6" cy="124.3" r="2.95"/><circle cx="552.0" cy="120.9" r="2.95"/><circle cx="553.7" cy="118.0" r="2.95"/><circle cx="555.0" cy="115.8" r="2.95"/><circle cx="556.3" cy="112.9" r="2.95"/><circle cx="558.1" cy="111.0" r="2.95"/><circle cx="559.2" cy="109.1" r="2.95"/><circle cx="561.5" cy="107.4" r="2.95"/><circle cx="562.9" cy="106.1" r="2.95"/><circle cx="564.6" cy="104.0" r="2.95"/><circle cx="565.8" cy="101.7" r="2.95"/><circle cx="566.4" cy="99.8" r="2.95"/><circle cx="567.1" cy="97.4" r="2.95"/><circle cx="567.4" cy="94.7" r="2.95"/><circle cx="567.6" cy="92.4" r="2.95"/><circle cx="567.7" cy="89.7" r="2.95"/><circle cx="567.8" cy="87.5" r="2.95"/><circle cx="567.8" cy="85.1" r="2.95"/><circle cx="568.2" cy="82.8" r="2.95"/><circle cx="567.9" cy="80.0" r="2.95"/><circle cx="567.4" cy="77.5" r="2.95"/><circle cx="567.4" cy="75.3" r="2.95"/><circle cx="566.9" cy="72.6" r="2.95"/><circle cx="566.4" cy="70.4" r="2.95"/><circle cx="565.9" cy="68.5" r="2.95"/><circle cx="565.3" cy="65.8" r="2.95"/><circle cx="563.8" cy="63.6" r="2.95"/><circle cx="562.3" cy="62.3" r="2.95"/><circle cx="559.8" cy="62.3" r="2.95"/><circle cx="558.1" cy="63.3" r="2.95"/><circle cx="375.6" cy="330.3" r="2.95"/><circle cx="373.8" cy="328.1" r="2.95"/><circle cx="371.5" cy="325.8" r="2.95"/><circle cx="368.5" cy="324.3" r="2.95"/><circle cx="365.3" cy="322.9" r="2.95"/><circle cx="362.6" cy="321.5" r="2.95"/><circle cx="359.4" cy="320.4" r="2.95"/><circle cx="356.5" cy="318.8" r="2.95"/><circle cx="353.6" cy="317.5" r="2.95"/><circle cx="350.7" cy="316.4" r="2.95"/><circle cx="347.3" cy="314.8" r="2.95"/><circle cx="344.6" cy="313.7" r="2.95"/><circle cx="341.9" cy="312.0" r="2.95"/><circle cx="339.5" cy="310.3" r="2.95"/><circle cx="336.6" cy="308.7" r="2.95"/><circle cx="334.3" cy="306.8" r="2.95"/><circle cx="332.1" cy="305.3" r="2.95"/><circle cx="330.7" cy="303.5" r="2.95"/><circle cx="329.6" cy="301.1" r="2.95"/><circle cx="328.4" cy="299.5" r="2.95"/><circle cx="327.6" cy="297.2" r="2.95"/><circle cx="328.0" cy="295.4" r="2.95"/><circle cx="328.4" cy="293.1" r="2.95"/><circle cx="328.8" cy="291.2" r="2.95"/><circle cx="329.4" cy="289.7" r="2.95"/><circle cx="329.9" cy="287.9" r="2.95"/><circle cx="331.1" cy="286.2" r="2.95"/><circle cx="332.1" cy="284.0" r="2.95"/><circle cx="333.5" cy="282.2" r="2.95"/><circle cx="335.0" cy="280.1" r="2.95"/><circle cx="336.9" cy="277.1" r="2.95"/><circle cx="339.9" cy="275.1" r="2.95"/><circle cx="343.2" cy="273.2" r="2.95"/><circle cx="347.3" cy="271.2" r="2.95"/><circle cx="351.3" cy="268.7" r="2.95"/><circle cx="355.4" cy="266.8" r="2.95"/><circle cx="359.5" cy="264.6" r="2.95"/><circle cx="364.1" cy="262.4" r="2.95"/><circle cx="369.3" cy="260.2" r="2.95"/><circle cx="374.2" cy="258.0" r="2.95"/><circle cx="379.1" cy="255.6" r="2.95"/><circle cx="384.9" cy="253.2" r="2.95"/><circle cx="389.6" cy="250.6" r="2.95"/><circle cx="394.7" cy="247.8" r="2.95"/><circle cx="400.3" cy="245.7" r="2.95"/><circle cx="405.5" cy="243.1" r="2.95"/><circle cx="411.4" cy="241.2" r="2.95"/><circle cx="416.7" cy="239.1" r="2.95"/><circle cx="421.9" cy="236.6" r="2.95"/><circle cx="427.1" cy="234.1" r="2.95"/><circle cx="432.6" cy="230.9" r="2.95"/><circle cx="437.6" cy="227.5" r="2.95"/><circle cx="442.0" cy="224.6" r="2.95"/><circle cx="446.7" cy="220.9" r="2.95"/><circle cx="451.7" cy="217.1" r="2.95"/><circle cx="455.7" cy="213.5" r="2.95"/><circle cx="460.6" cy="209.9" r="2.95"/><circle cx="464.7" cy="206.5" r="2.95"/><circle cx="469.5" cy="202.7" r="2.95"/><circle cx="474.0" cy="199.3" r="2.95"/><circle cx="478.5" cy="195.7" r="2.95"/><circle cx="483.0" cy="192.2" r="2.95"/><circle cx="487.7" cy="188.2" r="2.95"/><circle cx="491.7" cy="184.9" r="2.95"/><circle cx="496.0" cy="181.1" r="2.95"/><circle cx="500.5" cy="177.5" r="2.95"/><circle cx="504.9" cy="174.0" r="2.95"/><circle cx="508.5" cy="170.2" r="2.95"/><circle cx="512.8" cy="166.7" r="2.95"/><circle cx="516.7" cy="163.1" r="2.95"/><circle cx="520.6" cy="159.8" r="2.95"/><circle cx="523.7" cy="156.0" r="2.95"/><circle cx="526.9" cy="152.3" r="2.95"/><circle cx="530.1" cy="148.6" r="2.95"/><circle cx="532.8" cy="145.1" r="2.95"/><circle cx="535.8" cy="142.2" r="2.95"/><circle cx="539.0" cy="139.0" r="2.95"/><circle cx="542.7" cy="136.3" r="2.95"/><circle cx="545.5" cy="134.1" r="2.95"/><circle cx="548.8" cy="130.9" r="2.95"/><circle cx="550.7" cy="128.5" r="2.95"/><circle cx="553.0" cy="125.7" r="2.95"/><circle cx="554.7" cy="123.0" r="2.95"/><circle cx="556.4" cy="120.6" r="2.95"/><circle cx="557.7" cy="118.7" r="2.95"/><circle cx="559.6" cy="116.8" r="2.95"/><circle cx="561.1" cy="114.9" r="2.95"/><circle cx="563.0" cy="113.6" r="2.95"/><circle cx="565.0" cy="112.4" r="2.95"/><circle cx="566.2" cy="110.4" r="2.95"/><circle cx="568.1" cy="108.6" r="2.95"/><circle cx="569.1" cy="106.5" r="2.95"/><circle cx="570.6" cy="105.2" r="2.95"/><circle cx="571.9" cy="102.5" r="2.95"/><circle cx="572.5" cy="100.5" r="2.95"/><circle cx="573.1" cy="98.3" r="2.95"/><circle cx="573.9" cy="96.4" r="2.95"/><circle cx="573.7" cy="93.9" r="2.95"/><circle cx="574.1" cy="91.1" r="2.95"/><circle cx="574.5" cy="89.3" r="2.95"/><circle cx="575.1" cy="86.5" r="2.95"/><circle cx="574.8" cy="84.1" r="2.95"/><circle cx="575.0" cy="82.1" r="2.95"/><circle cx="575.0" cy="79.7" r="2.95"/><circle cx="575.3" cy="77.7" r="2.95"/><circle cx="574.9" cy="75.1" r="2.95"/><circle cx="575.1" cy="73.0" r="2.95"/><circle cx="575.3" cy="70.4" r="2.95"/><circle cx="575.1" cy="68.2" r="2.95"/><circle cx="575.1" cy="65.5" r="2.95"/><circle cx="574.5" cy="63.2" r="2.95"/><circle cx="574.9" cy="61.0" r="2.95"/><circle cx="574.4" cy="58.5" r="2.95"/><circle cx="376.0" cy="330.2" r="2.95"/><circle cx="374.3" cy="327.4" r="2.95"/><circle cx="372.3" cy="325.4" r="2.95"/><circle cx="369.6" cy="323.3" r="2.95"/><circle cx="366.7" cy="322.2" r="2.95"/><circle cx="363.0" cy="320.5" r="2.95"/><circle cx="360.2" cy="318.7" r="2.95"/><circle cx="357.1" cy="317.2" r="2.95"/><circle cx="354.2" cy="315.9" r="2.95"/><circle cx="351.3" cy="314.6" r="2.95"/><circle cx="348.3" cy="312.7" r="2.95"/><circle cx="345.3" cy="311.3" r="2.95"/><circle cx="342.5" cy="309.9" r="2.95"/><circle cx="339.5" cy="307.6" r="2.95"/><circle cx="337.4" cy="305.7" r="2.95"/><circle cx="335.4" cy="303.8" r="2.95"/><circle cx="333.8" cy="301.2" r="2.95"/><circle cx="332.6" cy="298.9" r="2.95"/><circle cx="332.4" cy="296.4" r="2.95"/><circle cx="332.2" cy="294.7" r="2.95"/><circle cx="333.0" cy="292.8" r="2.95"/><circle cx="333.5" cy="291.1" r="2.95"/><circle cx="334.6" cy="289.3" r="2.95"/><circle cx="335.1" cy="287.2" r="2.95"/><circle cx="336.0" cy="285.5" r="2.95"/><circle cx="337.8" cy="283.4" r="2.95"/><circle cx="337.5" cy="280.3" r="2.95"/><circle cx="340.6" cy="278.1" r="2.95"/><circle cx="344.1" cy="276.4" r="2.95"/><circle cx="348.3" cy="274.2" r="2.95"/><circle cx="352.5" cy="272.2" r="2.95"/><circle cx="357.0" cy="269.5" r="2.95"/><circle cx="361.9" cy="267.3" r="2.95"/><circle cx="367.0" cy="265.0" r="2.95"/><circle cx="372.0" cy="262.8" r="2.95"/><circle cx="377.2" cy="260.8" r="2.95"/><circle cx="382.8" cy="258.1" r="2.95"/><circle cx="388.3" cy="255.1" r="2.95"/><circle cx="393.7" cy="252.4" r="2.95"/><circle cx="399.2" cy="249.9" r="2.95"/><circle cx="404.3" cy="247.3" r="2.95"/><circle cx="410.3" cy="245.4" r="2.95"/><circle cx="415.8" cy="242.8" r="2.95"/><circle cx="421.2" cy="240.9" r="2.95"/><circle cx="427.1" cy="237.8" r="2.95"/><circle cx="431.9" cy="234.6" r="2.95"/><circle cx="437.0" cy="230.9" r="2.95"/><circle cx="442.2" cy="228.0" r="2.95"/><circle cx="447.2" cy="224.2" r="2.95"/><circle cx="451.5" cy="220.0" r="2.95"/><circle cx="456.2" cy="216.0" r="2.95"/><circle cx="460.9" cy="212.7" r="2.95"/><circle cx="465.7" cy="208.5" r="2.95"/><circle cx="470.5" cy="204.9" r="2.95"/><circle cx="475.3" cy="200.8" r="2.95"/><circle cx="479.5" cy="197.1" r="2.95"/><circle cx="483.9" cy="192.7" r="2.95"/><circle cx="488.6" cy="188.7" r="2.95"/><circle cx="492.9" cy="185.0" r="2.95"/><circle cx="497.5" cy="181.1" r="2.95"/><circle cx="501.9" cy="177.4" r="2.95"/><circle cx="506.0" cy="173.9" r="2.95"/><circle cx="510.3" cy="170.0" r="2.95"/><circle cx="514.8" cy="166.4" r="2.95"/><circle cx="518.6" cy="162.5" r="2.95"/><circle cx="522.3" cy="159.0" r="2.95"/><circle cx="525.8" cy="155.1" r="2.95"/><circle cx="529.2" cy="151.5" r="2.95"/><circle cx="531.8" cy="147.8" r="2.95"/><circle cx="535.7" cy="144.0" r="2.95"/><circle cx="538.6" cy="141.4" r="2.95"/><circle cx="541.8" cy="138.2" r="2.95"/><circle cx="545.2" cy="135.4" r="2.95"/><circle cx="548.4" cy="133.0" r="2.95"/><circle cx="550.9" cy="130.4" r="2.95"/><circle cx="553.5" cy="128.0" r="2.95"/><circle cx="555.4" cy="125.2" r="2.95"/><circle cx="557.6" cy="123.2" r="2.95"/><circle cx="559.9" cy="121.3" r="2.95"/><circle cx="561.7" cy="119.5" r="2.95"/><circle cx="563.0" cy="118.0" r="2.95"/><circle cx="564.6" cy="116.5" r="2.95"/><circle cx="566.8" cy="114.3" r="2.95"/><circle cx="568.1" cy="112.8" r="2.95"/><circle cx="570.0" cy="110.9" r="2.95"/><circle cx="571.0" cy="109.1" r="2.95"/><circle cx="572.5" cy="107.0" r="2.95"/><circle cx="574.2" cy="105.2" r="2.95"/><circle cx="575.5" cy="102.5" r="2.95"/><circle cx="576.9" cy="100.9" r="2.95"/><circle cx="577.7" cy="98.2" r="2.95"/><circle cx="578.9" cy="96.3" r="2.95"/><circle cx="579.7" cy="94.4" r="2.95"/><circle cx="580.7" cy="91.5" r="2.95"/><circle cx="581.3" cy="89.4" r="2.95"/><circle cx="581.9" cy="87.0" r="2.95"/><circle cx="582.2" cy="84.7" r="2.95"/><circle cx="582.4" cy="82.2" r="2.95"/><circle cx="583.2" cy="79.6" r="2.95"/><circle cx="583.1" cy="77.8" r="2.95"/><circle cx="583.8" cy="75.1" r="2.95"/><circle cx="583.6" cy="72.4" r="2.95"/><circle cx="583.9" cy="70.6" r="2.95"/><circle cx="584.0" cy="68.1" r="2.95"/><circle cx="583.4" cy="65.4" r="2.95"/><circle cx="583.2" cy="63.3" r="2.95"/><circle cx="582.3" cy="60.9" r="2.95"/><circle cx="581.7" cy="58.1" r="2.95"/></g>
<g fill="#ff0000" stroke="#fff" stroke-width="0.5"><circle cx="588.2" cy="60.4" r="2.95"/><circle cx="586.7" cy="62.9" r="2.95"/><circle cx="586.0" cy="66.0" r="2.95"/><circle cx="585.3" cy="69.0" r="2.95"/><circle cx="585.5" cy="71.9" r="2.95"/><circle cx="585.9" cy="74.7" r="2.95"/><circle cx="586.4" cy="77.8" r="2.95"/><circle cx="587.7" cy="81.1" r="2.95"/><circle cx="588.4" cy="84.2" r="2.95"/><circle cx="589.5" cy="87.0" r="2.95"/><circle cx="589.0" cy="90.4" r="2.95"/><circle cx="589.2" cy="93.4" r="2.95"/><circle cx="588.3" cy="96.4" r="2.95"/><circle cx="587.1" cy="100.3" r="2.95"/><circle cx="586.7" cy="102.8" r="2.95"/><circle cx="584.8" cy="106.7" r="2.95"/><circle cx="583.8" cy="109.5" r="2.95"/><circle cx="582.2" cy="112.2" r="2.95"/><circle cx="580.7" cy="115.5" r="2.95"/><circle cx="579.6" cy="117.7" r="2.95"/><circle cx="577.3" cy="120.3" r="2.95"/><circle cx="576.0" cy="123.0" r="2.95"/><circle cx="573.7" cy="126.9" r="2.95"/><circle cx="571.6" cy="129.6" r="2.95"/><circle cx="570.8" cy="132.4" r="2.95"/><circle cx="569.2" cy="135.0" r="2.95"/><circle cx="569.0" cy="139.1" r="2.95"/><circle cx="568.0" cy="141.5" r="2.95"/><circle cx="567.4" cy="145.0" r="2.95"/><circle cx="566.3" cy="148.9" r="2.95"/><circle cx="566.7" cy="151.8" r="2.95"/><circle cx="566.7" cy="155.9" r="2.95"/><circle cx="566.8" cy="159.9" r="2.95"/><circle cx="566.4" cy="162.6" r="2.95"/><circle cx="566.7" cy="166.7" r="2.95"/><circle cx="565.6" cy="170.4" r="2.95"/><circle cx="566.0" cy="173.2" r="2.95"/><circle cx="564.8" cy="176.4" r="2.95"/><circle cx="564.4" cy="180.2" r="2.95"/><circle cx="562.9" cy="183.7" r="2.95"/><circle cx="561.5" cy="187.5" r="2.95"/><circle cx="560.5" cy="190.7" r="2.95"/><circle cx="559.3" cy="194.5" r="2.95"/><circle cx="559.1" cy="197.6" r="2.95"/><circle cx="558.1" cy="202.2" r="2.95"/><circle cx="556.9" cy="205.4" r="2.95"/><circle cx="556.2" cy="209.1" r="2.95"/><circle cx="555.3" cy="213.3" r="2.95"/><circle cx="554.5" cy="216.1" r="2.95"/><circle cx="552.5" cy="220.7" r="2.95"/><circle cx="551.8" cy="224.2" r="2.95"/><circle cx="550.5" cy="227.4" r="2.95"/><circle cx="549.4" cy="231.5" r="2.95"/><circle cx="549.1" cy="234.9" r="2.95"/><circle cx="547.2" cy="238.4" r="2.95"/><circle cx="544.7" cy="242.5" r="2.95"/><circle cx="542.0" cy="245.5" r="2.95"/><circle cx="539.8" cy="247.3" r="2.95"/><circle cx="537.0" cy="250.3" r="2.95"/><circle cx="533.2" cy="253.4" r="2.95"/><circle cx="530.3" cy="256.8" r="2.95"/><circle cx="526.4" cy="259.8" r="2.95"/><circle cx="522.3" cy="263.0" r="2.95"/><circle cx="517.5" cy="267.0" r="2.95"/><circle cx="514.8" cy="270.3" r="2.95"/><circle cx="510.5" cy="273.7" r="2.95"/><circle cx="505.8" cy="276.1" r="2.95"/><circle cx="501.6" cy="279.6" r="2.95"/><circle cx="497.2" cy="283.1" r="2.95"/><circle cx="492.6" cy="286.1" r="2.95"/><circle cx="488.4" cy="289.5" r="2.95"/><circle cx="483.6" cy="292.3" r="2.95"/><circle cx="479.2" cy="296.2" r="2.95"/><circle cx="475.3" cy="299.1" r="2.95"/><circle cx="469.5" cy="301.5" r="2.95"/><circle cx="465.0" cy="304.6" r="2.95"/><circle cx="461.0" cy="307.4" r="2.95"/><circle cx="456.2" cy="309.7" r="2.95"/><circle cx="451.2" cy="311.8" r="2.95"/><circle cx="445.2" cy="313.2" r="2.95"/><circle cx="441.1" cy="315.5" r="2.95"/><circle cx="436.3" cy="317.2" r="2.95"/><circle cx="431.9" cy="318.1" r="2.95"/><circle cx="426.5" cy="320.7" r="2.95"/><circle cx="420.9" cy="320.7" r="2.95"/><circle cx="583.3" cy="65.6" r="2.95"/><circle cx="584.5" cy="69.9" r="2.95"/><circle cx="584.1" cy="73.1" r="2.95"/><circle cx="584.4" cy="76.7" r="2.95"/><circle cx="583.3" cy="79.1" r="2.95"/><circle cx="584.3" cy="83.7" r="2.95"/><circle cx="584.4" cy="86.4" r="2.95"/><circle cx="583.6" cy="89.7" r="2.95"/><circle cx="583.0" cy="93.7" r="2.95"/><circle cx="583.1" cy="96.9" r="2.95"/><circle cx="583.0" cy="100.0" r="2.95"/><circle cx="582.3" cy="103.5" r="2.95"/><circle cx="580.3" cy="107.4" r="2.95"/><circle cx="578.6" cy="109.5" r="2.95"/><circle cx="577.1" cy="113.1" r="2.95"/><circle cx="576.2" cy="116.0" r="2.95"/><circle cx="573.8" cy="119.6" r="2.95"/><circle cx="572.2" cy="122.7" r="2.95"/><circle cx="570.9" cy="126.5" r="2.95"/><circle cx="569.7" cy="129.0" r="2.95"/><circle cx="568.9" cy="132.6" r="2.95"/><circle cx="568.6" cy="136.7" r="2.95"/><circle cx="568.1" cy="140.1" r="2.95"/><circle cx="566.7" cy="144.0" r="2.95"/><circle cx="566.6" cy="146.9" r="2.95"/><circle cx="566.9" cy="151.7" r="2.95"/><circle cx="567.1" cy="154.5" r="2.95"/><circle cx="568.5" cy="159.1" r="2.95"/><circle cx="568.5" cy="161.6" r="2.95"/><circle cx="569.6" cy="166.2" r="2.95"/><circle cx="569.5" cy="170.0" r="2.95"/><circle cx="569.9" cy="173.1" r="2.95"/><circle cx="570.0" cy="177.6" r="2.95"/><circle cx="569.2" cy="181.5" r="2.95"/><circle cx="567.5" cy="184.8" r="2.95"/><circle cx="566.6" cy="187.9" r="2.95"/><circle cx="565.4" cy="191.4" r="2.95"/><circle cx="562.2" cy="195.7" r="2.95"/><circle cx="561.2" cy="199.3" r="2.95"/><circle cx="559.0" cy="203.0" r="2.95"/><circle cx="557.8" cy="206.7" r="2.95"/><circle cx="558.1" cy="209.9" r="2.95"/><circle cx="556.2" cy="214.6" r="2.95"/><circle cx="556.1" cy="218.6" r="2.95"/><circle cx="555.1" cy="222.2" r="2.95"/><circle cx="553.1" cy="225.6" r="2.95"/><circle cx="551.6" cy="230.7" r="2.95"/><circle cx="550.2" cy="233.7" r="2.95"/><circle cx="549.2" cy="237.4" r="2.95"/><circle cx="547.0" cy="241.2" r="2.95"/><circle cx="544.0" cy="244.9" r="2.95"/><circle cx="541.6" cy="248.2" r="2.95"/><circle cx="538.6" cy="251.4" r="2.95"/><circle cx="535.4" cy="254.1" r="2.95"/><circle cx="530.8" cy="257.5" r="2.95"/><circle cx="527.1" cy="262.0" r="2.95"/><circle cx="523.8" cy="265.0" r="2.95"/><circle cx="518.5" cy="268.1" r="2.95"/><circle cx="514.7" cy="271.5" r="2.95"/><circle cx="510.5" cy="275.9" r="2.95"/><circle cx="505.6" cy="278.9" r="2.95"/><circle cx="501.6" cy="282.3" r="2.95"/><circle cx="495.8" cy="286.4" r="2.95"/><circle cx="492.0" cy="288.4" r="2.95"/><circle cx="486.9" cy="292.2" r="2.95"/><circle cx="481.1" cy="295.3" r="2.95"/><circle cx="476.4" cy="299.3" r="2.95"/><circle cx="471.4" cy="301.3" r="2.95"/><circle cx="466.4" cy="305.1" r="2.95"/><circle cx="461.6" cy="307.5" r="2.95"/><circle cx="456.3" cy="309.2" r="2.95"/><circle cx="450.5" cy="311.7" r="2.95"/><circle cx="445.3" cy="313.7" r="2.95"/><circle cx="440.9" cy="315.9" r="2.95"/><circle cx="435.5" cy="318.2" r="2.95"/><circle cx="430.0" cy="319.4" r="2.95"/><circle cx="425.6" cy="321.1" r="2.95"/><circle cx="590.2" cy="73.3" r="2.95"/><circle cx="591.2" cy="76.2" r="2.95"/><circle cx="591.6" cy="80.2" r="2.95"/><circle cx="591.6" cy="82.4" r="2.95"/><circle cx="591.0" cy="86.7" r="2.95"/><circle cx="590.7" cy="88.8" r="2.95"/><circle cx="591.6" cy="92.1" r="2.95"/><circle cx="591.9" cy="95.1" r="2.95"/><circle cx="592.6" cy="98.5" r="2.95"/><circle cx="591.4" cy="102.3" r="2.95"/><circle cx="591.4" cy="105.4" r="2.95"/><circle cx="591.0" cy="109.1" r="2.95"/><circle cx="590.0" cy="111.5" r="2.95"/><circle cx="588.0" cy="114.7" r="2.95"/><circle cx="587.2" cy="117.9" r="2.95"/><circle cx="586.4" cy="120.8" r="2.95"/><circle cx="584.3" cy="123.9" r="2.95"/><circle cx="583.4" cy="127.2" r="2.95"/><circle cx="582.8" cy="129.8" r="2.95"/><circle cx="580.9" cy="132.6" r="2.95"/><circle cx="580.2" cy="136.0" r="2.95"/><circle cx="579.1" cy="140.0" r="2.95"/><circle cx="577.2" cy="143.4" r="2.95"/><circle cx="576.5" cy="146.0" r="2.95"/><circle cx="575.7" cy="150.0" r="2.95"/><circle cx="574.8" cy="152.8" r="2.95"/><circle cx="573.9" cy="156.7" r="2.95"/><circle cx="573.7" cy="159.4" r="2.95"/><circle cx="572.8" cy="162.7" r="2.95"/><circle cx="573.4" cy="167.1" r="2.95"/><circle cx="573.6" cy="170.8" r="2.95"/><circle cx="573.2" cy="174.2" r="2.95"/><circle cx="573.3" cy="177.8" r="2.95"/><circle cx="573.3" cy="180.5" r="2.95"/><circle cx="573.0" cy="184.3" r="2.95"/><circle cx="571.6" cy="188.8" r="2.95"/><circle cx="570.2" cy="191.7" r="2.95"/><circle cx="569.4" cy="195.6" r="2.95"/><circle cx="568.6" cy="199.3" r="2.95"/><circle cx="568.0" cy="202.5" r="2.95"/><circle cx="565.8" cy="206.2" r="2.95"/><circle cx="564.9" cy="210.3" r="2.95"/><circle cx="565.0" cy="213.0" r="2.95"/><circle cx="563.0" cy="217.2" r="2.95"/><circle cx="562.8" cy="221.3" r="2.95"/><circle cx="561.5" cy="223.8" r="2.95"/><circle cx="560.5" cy="227.4" r="2.95"/><circle cx="559.5" cy="232.0" r="2.95"/><circle cx="558.4" cy="236.0" r="2.95"/><circle cx="556.5" cy="239.6" r="2.95"/><circle cx="554.2" cy="242.0" r="2.95"/><circle cx="551.0" cy="244.5" r="2.95"/><circle cx="547.4" cy="246.9" r="2.95"/><circle cx="545.2" cy="249.7" r="2.95"/><circle cx="541.6" cy="253.2" r="2.95"/><circle cx="538.1" cy="255.5" r="2.95"/><circle cx="533.9" cy="258.0" r="2.95"/><circle cx="530.0" cy="261.4" r="2.95"/><circle cx="526.9" cy="264.9" r="2.95"/><circle cx="522.5" cy="268.0" r="2.95"/><circle cx="519.3" cy="270.3" r="2.95"/><circle cx="515.3" cy="273.9" r="2.95"/><circle cx="511.2" cy="277.3" r="2.95"/><circle cx="506.1" cy="279.9" r="2.95"/><circle cx="502.1" cy="283.5" r="2.95"/><circle cx="497.0" cy="287.2" r="2.95"/><circle cx="493.0" cy="289.6" r="2.95"/><circle cx="488.7" cy="292.3" r="2.95"/><circle cx="483.5" cy="295.9" r="2.95"/><circle cx="479.0" cy="298.5" r="2.95"/><circle cx="474.1" cy="301.0" r="2.95"/><circle cx="469.8" cy="304.2" r="2.95"/><circle cx="465.8" cy="306.8" r="2.95"/><circle cx="460.2" cy="308.8" r="2.95"/><circle cx="455.0" cy="311.0" r="2.95"/><circle cx="451.2" cy="312.6" r="2.95"/><circle cx="445.5" cy="315.3" r="2.95"/><circle cx="441.1" cy="316.9" r="2.95"/><circle cx="436.1" cy="319.2" r="2.95"/><circle cx="431.6" cy="319.7" r="2.95"/><circle cx="426.2" cy="322.0" r="2.95"/><circle cx="421.2" cy="322.0" r="2.95"/><circle cx="614.0" cy="61.1" r="2.95"/><circle cx="614.2" cy="64.6" r="2.95"/><circle cx="614.8" cy="67.3" r="2.95"/><circle cx="614.9" cy="71.0" r="2.95"/><circle cx="614.8" cy="74.1" r="2.95"/><circle cx="614.4" cy="76.9" r="2.95"/><circle cx="614.4" cy="81.4" r="2.95"/><circle cx="614.9" cy="83.5" r="2.95"/><circle cx="613.7" cy="87.1" r="2.95"/><circle cx="614.7" cy="90.7" r="2.95"/><circle cx="614.2" cy="94.1" r="2.95"/><circle cx="615.5" cy="97.9" r="2.95"/><circle cx="616.1" cy="101.1" r="2.95"/><circle cx="617.1" cy="104.4" r="2.95"/><circle cx="616.8" cy="107.9" r="2.95"/><circle cx="617.5" cy="110.4" r="2.95"/><circle cx="618.3" cy="113.9" r="2.95"/><circle cx="617.2" cy="117.8" r="2.95"/><circle cx="616.1" cy="120.5" r="2.95"/><circle cx="614.5" cy="124.2" r="2.95"/><circle cx="611.6" cy="126.6" r="2.95"/><circle cx="609.5" cy="130.2" r="2.95"/><circle cx="607.6" cy="132.4" r="2.95"/><circle cx="606.2" cy="136.4" r="2.95"/><circle cx="605.1" cy="139.0" r="2.95"/><circle cx="603.3" cy="142.9" r="2.95"/><circle cx="601.6" cy="146.0" r="2.95"/><circle cx="600.7" cy="148.9" r="2.95"/><circle cx="599.0" cy="152.3" r="2.95"/><circle cx="598.0" cy="155.6" r="2.95"/><circle cx="597.1" cy="159.3" r="2.95"/><circle cx="595.4" cy="163.2" r="2.95"/><circle cx="594.1" cy="166.2" r="2.95"/><circle cx="593.1" cy="169.6" r="2.95"/><circle cx="590.7" cy="173.6" r="2.95"/><circle cx="590.0" cy="176.9" r="2.95"/><circle cx="587.9" cy="180.3" r="2.95"/><circle cx="587.0" cy="183.4" r="2.95"/><circle cx="585.0" cy="187.6" r="2.95"/><circle cx="582.4" cy="190.1" r="2.95"/><circle cx="579.0" cy="192.5" r="2.95"/><circle cx="575.5" cy="194.9" r="2.95"/><circle cx="572.9" cy="197.7" r="2.95"/><circle cx="569.9" cy="200.1" r="2.95"/><circle cx="567.7" cy="203.3" r="2.95"/><circle cx="567.8" cy="206.9" r="2.95"/><circle cx="567.0" cy="210.8" r="2.95"/><circle cx="565.8" cy="215.8" r="2.95"/><circle cx="564.5" cy="219.6" r="2.95"/><circle cx="563.2" cy="223.0" r="2.95"/><circle cx="563.0" cy="227.3" r="2.95"/><circle cx="561.1" cy="230.8" r="2.95"/><circle cx="560.6" cy="235.0" r="2.95"/><circle cx="559.1" cy="238.6" r="2.95"/><circle cx="555.9" cy="242.0" r="2.95"/><circle cx="553.4" cy="244.7" r="2.95"/><circle cx="550.7" cy="247.0" r="2.95"/><circle cx="547.0" cy="250.1" r="2.95"/><circle cx="543.4" cy="253.8" r="2.95"/><circle cx="539.1" cy="256.2" r="2.95"/><circle cx="535.7" cy="259.1" r="2.95"/><circle cx="531.3" cy="262.3" r="2.95"/><circle cx="528.3" cy="265.6" r="2.95"/><circle cx="523.3" cy="269.0" r="2.95"/><circle cx="519.3" cy="271.3" r="2.95"/><circle cx="515.2" cy="275.0" r="2.95"/><circle cx="510.7" cy="279.1" r="2.95"/><circle cx="506.3" cy="282.5" r="2.95"/><circle cx="501.4" cy="285.7" r="2.95"/><circle cx="496.3" cy="288.3" r="2.95"/><circle cx="492.2" cy="291.9" r="2.95"/><circle cx="487.5" cy="294.6" r="2.95"/><circle cx="481.9" cy="297.8" r="2.95"/><circle cx="477.4" cy="300.4" r="2.95"/><circle cx="472.2" cy="304.1" r="2.95"/><circle cx="466.8" cy="306.2" r="2.95"/><circle cx="462.7" cy="309.5" r="2.95"/><circle cx="456.7" cy="310.7" r="2.95"/><circle cx="451.3" cy="312.7" r="2.95"/><circle cx="447.0" cy="315.7" r="2.95"/><circle cx="441.1" cy="317.2" r="2.95"/><circle cx="436.5" cy="318.4" r="2.95"/><circle cx="431.6" cy="321.1" r="2.95"/><circle cx="425.5" cy="322.1" r="2.95"/><circle cx="421.0" cy="322.8" r="2.95"/><circle cx="594.6" cy="103.5" r="2.95"/><circle cx="594.1" cy="107.7" r="2.95"/><circle cx="593.9" cy="110.9" r="2.95"/><circle cx="594.0" cy="113.9" r="2.95"/><circle cx="592.5" cy="118.0" r="2.95"/><circle cx="592.0" cy="122.0" r="2.95"/><circle cx="591.8" cy="124.8" r="2.95"/><circle cx="591.4" cy="128.9" r="2.95"/><circle cx="591.4" cy="132.3" r="2.95"/><circle cx="589.5" cy="135.4" r="2.95"/><circle cx="589.2" cy="138.7" r="2.95"/><circle cx="588.3" cy="143.1" r="2.95"/><circle cx="586.1" cy="145.8" r="2.95"/><circle cx="584.7" cy="149.7" r="2.95"/><circle cx="583.1" cy="153.2" r="2.95"/><circle cx="581.9" cy="156.9" r="2.95"/><circle cx="581.4" cy="160.1" r="2.95"/><circle cx="579.8" cy="163.0" r="2.95"/><circle cx="579.7" cy="168.1" r="2.95"/><circle cx="580.3" cy="171.7" r="2.95"/><circle cx="580.1" cy="174.4" r="2.95"/><circle cx="580.7" cy="179.1" r="2.95"/><circle cx="582.0" cy="182.3" r="2.95"/><circle cx="583.3" cy="186.7" r="2.95"/><circle cx="582.2" cy="190.2" r="2.95"/><circle cx="580.5" cy="194.0" r="2.95"/><circle cx="578.8" cy="197.3" r="2.95"/><circle cx="577.3" cy="200.9" r="2.95"/><circle cx="576.2" cy="204.4" r="2.95"/><circle cx="575.3" cy="209.2" r="2.95"/><circle cx="574.2" cy="212.5" r="2.95"/><circle cx="573.9" cy="216.9" r="2.95"/><circle cx="572.2" cy="220.6" r="2.95"/><circle cx="571.5" cy="225.1" r="2.95"/><circle cx="569.7" cy="228.9" r="2.95"/><circle cx="568.5" cy="232.6" r="2.95"/><circle cx="567.2" cy="236.6" r="2.95"/><circle cx="564.9" cy="240.1" r="2.95"/><circle cx="561.9" cy="243.1" r="2.95"/><circle cx="558.9" cy="246.2" r="2.95"/><circle cx="554.5" cy="247.6" r="2.95"/><circle cx="550.9" cy="250.3" r="2.95"/><circle cx="547.8" cy="253.7" r="2.95"/><circle cx="543.2" cy="255.8" r="2.95"/><circle cx="540.0" cy="259.5" r="2.95"/><circle cx="535.6" cy="262.0" r="2.95"/><circle cx="531.5" cy="264.6" r="2.95"/><circle cx="526.8" cy="267.8" r="2.95"/><circle cx="523.2" cy="271.7" r="2.95"/><circle cx="518.9" cy="274.7" r="2.95"/><circle cx="513.3" cy="277.2" r="2.95"/><circle cx="510.0" cy="281.0" r="2.95"/><circle cx="504.8" cy="284.2" r="2.95"/><circle cx="500.6" cy="287.9" r="2.95"/><circle cx="495.8" cy="290.5" r="2.95"/><circle cx="490.7" cy="293.5" r="2.95"/><circle cx="484.6" cy="297.2" r="2.95"/><circle cx="480.3" cy="300.0" r="2.95"/><circle cx="475.2" cy="304.1" r="2.95"/><circle cx="469.8" cy="306.5" r="2.95"/><circle cx="464.8" cy="308.7" r="2.95"/><circle cx="459.0" cy="310.9" r="2.95"/><circle cx="454.7" cy="313.4" r="2.95"/><circle cx="448.4" cy="315.1" r="2.95"/><circle cx="443.6" cy="316.9" r="2.95"/><circle cx="438.4" cy="319.1" r="2.95"/><circle cx="432.3" cy="320.2" r="2.95"/><circle cx="427.9" cy="321.5" r="2.95"/><circle cx="421.8" cy="323.4" r="2.95"/><circle cx="610.1" cy="47.7" r="2.95"/><circle cx="610.5" cy="50.9" r="2.95"/><circle cx="611.0" cy="54.5" r="2.95"/><circle cx="611.2" cy="56.5" r="2.95"/><circle cx="610.4" cy="60.6" r="2.95"/><circle cx="610.5" cy="62.8" r="2.95"/><circle cx="610.4" cy="65.7" r="2.95"/><circle cx="610.9" cy="69.9" r="2.95"/><circle cx="610.7" cy="72.0" r="2.95"/><circle cx="611.5" cy="75.0" r="2.95"/><circle cx="611.3" cy="78.7" r="2.95"/><circle cx="611.9" cy="81.0" r="2.95"/><circle cx="611.6" cy="84.5" r="2.95"/><circle cx="612.2" cy="87.5" r="2.95"/><circle cx="612.4" cy="90.5" r="2.95"/><circle cx="612.7" cy="94.7" r="2.95"/><circle cx="613.0" cy="96.9" r="2.95"/><circle cx="614.6" cy="100.6" r="2.95"/><circle cx="614.2" cy="103.0" r="2.95"/><circle cx="615.2" cy="106.3" r="2.95"/><circle cx="616.5" cy="110.1" r="2.95"/><circle cx="616.5" cy="113.3" r="2.95"/><circle cx="615.2" cy="116.2" r="2.95"/><circle cx="614.0" cy="120.0" r="2.95"/><circle cx="611.2" cy="124.2" r="2.95"/><circle cx="609.5" cy="129.0" r="2.95"/><circle cx="606.6" cy="132.9" r="2.95"/><circle cx="605.5" cy="138.1" r="2.95"/><circle cx="602.3" cy="142.5" r="2.95"/><circle cx="600.4" cy="148.3" r="2.95"/><circle cx="597.7" cy="152.5" r="2.95"/><circle cx="596.0" cy="157.7" r="2.95"/><circle cx="594.1" cy="161.8" r="2.95"/><circle cx="591.5" cy="167.4" r="2.95"/><circle cx="589.8" cy="172.6" r="2.95"/><circle cx="588.8" cy="176.5" r="2.95"/><circle cx="588.3" cy="181.5" r="2.95"/><circle cx="587.2" cy="184.8" r="2.95"/><circle cx="585.9" cy="188.1" r="2.95"/><circle cx="583.3" cy="191.5" r="2.95"/><circle cx="581.9" cy="193.9" r="2.95"/><circle cx="580.3" cy="197.0" r="2.95"/><circle cx="580.1" cy="201.0" r="2.95"/><circle cx="578.0" cy="204.1" r="2.95"/><circle cx="578.2" cy="208.4" r="2.95"/><circle cx="577.4" cy="211.3" r="2.95"/><circle cx="575.3" cy="215.3" r="2.95"/><circle cx="574.3" cy="218.6" r="2.95"/><circle cx="573.2" cy="223.0" r="2.95"/><circle cx="571.9" cy="225.9" r="2.95"/><circle cx="571.1" cy="229.8" r="2.95"/><circle cx="569.7" cy="233.7" r="2.95"/><circle cx="569.1" cy="237.1" r="2.95"/><circle cx="566.7" cy="239.7" r="2.95"/><circle cx="564.0" cy="242.5" r="2.95"/><circle cx="560.6" cy="244.7" r="2.95"/><circle cx="558.1" cy="248.0" r="2.95"/><circle cx="554.1" cy="250.3" r="2.95"/><circle cx="551.4" cy="252.2" r="2.95"/><circle cx="547.1" cy="255.4" r="2.95"/><circle cx="543.4" cy="257.9" r="2.95"/><circle cx="540.5" cy="259.5" r="2.95"/><circle cx="535.9" cy="262.4" r="2.95"/><circle cx="532.7" cy="265.7" r="2.95"/><circle cx="528.7" cy="268.7" r="2.95"/><circle cx="524.0" cy="270.8" r="2.95"/><circle cx="521.0" cy="274.3" r="2.95"/><circle cx="515.9" cy="277.6" r="2.95"/><circle cx="512.7" cy="280.5" r="2.95"/><circle cx="508.0" cy="283.2" r="2.95"/><circle cx="504.6" cy="286.9" r="2.95"/><circle cx="499.7" cy="290.0" r="2.95"/><circle cx="495.6" cy="292.8" r="2.95"/><circle cx="490.5" cy="295.7" r="2.95"/><circle cx="485.2" cy="297.8" r="2.95"/><circle cx="481.2" cy="300.3" r="2.95"/><circle cx="476.9" cy="302.9" r="2.95"/><circle cx="471.9" cy="305.7" r="2.95"/><circle cx="466.7" cy="308.4" r="2.95"/><circle cx="461.7" cy="310.4" r="2.95"/><circle cx="457.8" cy="313.2" r="2.95"/><circle cx="452.0" cy="314.2" r="2.95"/><circle cx="447.7" cy="315.8" r="2.95"/><circle cx="443.1" cy="317.5" r="2.95"/><circle cx="437.8" cy="319.3" r="2.95"/><circle cx="432.2" cy="320.3" r="2.95"/><circle cx="427.4" cy="322.0" r="2.95"/><circle cx="422.9" cy="324.0" r="2.95"/><circle cx="600.9" cy="62.6" r="2.95"/><circle cx="602.5" cy="65.8" r="2.95"/><circle cx="604.7" cy="68.8" r="2.95"/><circle cx="605.6" cy="70.8" r="2.95"/><circle cx="606.9" cy="73.7" r="2.95"/><circle cx="608.2" cy="77.1" r="2.95"/><circle cx="608.5" cy="79.9" r="2.95"/><circle cx="608.5" cy="84.3" r="2.95"/><circle cx="607.4" cy="87.1" r="2.95"/><circle cx="606.9" cy="89.5" r="2.95"/><circle cx="606.5" cy="93.0" r="2.95"/><circle cx="605.8" cy="96.7" r="2.95"/><circle cx="604.7" cy="100.4" r="2.95"/><circle cx="603.3" cy="102.5" r="2.95"/><circle cx="603.3" cy="106.4" r="2.95"/><circle cx="604.8" cy="110.1" r="2.95"/><circle cx="605.3" cy="113.6" r="2.95"/><circle cx="607.1" cy="115.3" r="2.95"/><circle cx="610.1" cy="117.4" r="2.95"/><circle cx="612.1" cy="119.7" r="2.95"/><circle cx="614.3" cy="122.3" r="2.95"/><circle cx="616.6" cy="125.4" r="2.95"/><circle cx="617.7" cy="129.7" r="2.95"/><circle cx="617.8" cy="132.1" r="2.95"/><circle cx="618.1" cy="136.5" r="2.95"/><circle cx="617.7" cy="139.7" r="2.95"/><circle cx="616.3" cy="143.5" r="2.95"/><circle cx="615.1" cy="147.0" r="2.95"/><circle cx="612.9" cy="149.8" r="2.95"/><circle cx="611.6" cy="152.5" r="2.95"/><circle cx="608.8" cy="155.5" r="2.95"/><circle cx="607.3" cy="158.8" r="2.95"/><circle cx="605.8" cy="161.8" r="2.95"/><circle cx="603.3" cy="164.4" r="2.95"/><circle cx="602.2" cy="168.3" r="2.95"/><circle cx="601.0" cy="171.7" r="2.95"/><circle cx="598.2" cy="174.5" r="2.95"/><circle cx="596.8" cy="178.3" r="2.95"/><circle cx="595.1" cy="181.9" r="2.95"/><circle cx="593.9" cy="184.7" r="2.95"/><circle cx="592.6" cy="188.2" r="2.95"/><circle cx="592.2" cy="191.4" r="2.95"/><circle cx="590.2" cy="195.1" r="2.95"/><circle cx="589.4" cy="198.9" r="2.95"/><circle cx="587.6" cy="203.0" r="2.95"/><circle cx="587.3" cy="207.3" r="2.95"/><circle cx="586.1" cy="210.4" r="2.95"/><circle cx="585.0" cy="215.0" r="2.95"/><circle cx="583.6" cy="217.6" r="2.95"/><circle cx="583.4" cy="222.0" r="2.95"/><circle cx="581.1" cy="225.3" r="2.95"/><circle cx="580.7" cy="229.9" r="2.95"/><circle cx="578.6" cy="233.7" r="2.95"/><circle cx="577.5" cy="237.1" r="2.95"/><circle cx="575.3" cy="239.6" r="2.95"/><circle cx="572.6" cy="242.5" r="2.95"/><circle cx="568.2" cy="245.5" r="2.95"/><circle cx="564.6" cy="246.8" r="2.95"/><circle cx="561.7" cy="249.7" r="2.95"/><circle cx="558.3" cy="252.5" r="2.95"/><circle cx="553.5" cy="253.7" r="2.95"/><circle cx="550.2" cy="256.7" r="2.95"/><circle cx="545.8" cy="259.7" r="2.95"/><circle cx="541.7" cy="261.8" r="2.95"/><circle cx="537.4" cy="264.6" r="2.95"/><circle cx="534.4" cy="266.7" r="2.95"/><circle cx="529.3" cy="269.5" r="2.95"/><circle cx="525.9" cy="272.4" r="2.95"/><circle cx="520.5" cy="275.1" r="2.95"/><circle cx="516.4" cy="278.3" r="2.95"/><circle cx="513.2" cy="281.9" r="2.95"/><circle cx="507.8" cy="284.7" r="2.95"/><circle cx="503.5" cy="287.5" r="2.95"/><circle cx="499.4" cy="291.6" r="2.95"/><circle cx="493.9" cy="294.0" r="2.95"/><circle cx="489.5" cy="297.3" r="2.95"/><circle cx="484.3" cy="299.4" r="2.95"/><circle cx="479.0" cy="302.4" r="2.95"/><circle cx="475.1" cy="305.5" r="2.95"/><circle cx="469.8" cy="307.8" r="2.95"/><circle cx="464.3" cy="309.8" r="2.95"/><circle cx="460.1" cy="312.6" r="2.95"/><circle cx="453.7" cy="314.7" r="2.95"/><circle cx="449.2" cy="316.5" r="2.95"/><circle cx="444.3" cy="318.3" r="2.95"/><circle cx="439.4" cy="320.5" r="2.95"/><circle cx="433.6" cy="321.5" r="2.95"/><circle cx="428.5" cy="322.5" r="2.95"/><circle cx="423.3" cy="323.9" r="2.95"/><circle cx="599.8" cy="104.4" r="2.95"/><circle cx="598.4" cy="107.6" r="2.95"/><circle cx="597.2" cy="110.4" r="2.95"/><circle cx="596.5" cy="113.2" r="2.95"/><circle cx="596.1" cy="117.1" r="2.95"/><circle cx="597.3" cy="119.7" r="2.95"/><circle cx="596.7" cy="122.8" r="2.95"/><circle cx="596.6" cy="126.8" r="2.95"/><circle cx="598.1" cy="129.3" r="2.95"/><circle cx="597.7" cy="133.6" r="2.95"/><circle cx="598.3" cy="137.0" r="2.95"/><circle cx="599.3" cy="139.7" r="2.95"/><circle cx="600.2" cy="142.6" r="2.95"/><circle cx="601.8" cy="145.8" r="2.95"/><circle cx="603.2" cy="148.7" r="2.95"/><circle cx="603.7" cy="153.1" r="2.95"/><circle cx="603.7" cy="155.7" r="2.95"/><circle cx="603.6" cy="159.0" r="2.95"/><circle cx="604.4" cy="163.2" r="2.95"/><circle cx="602.8" cy="166.4" r="2.95"/><circle cx="602.9" cy="169.6" r="2.95"/><circle cx="601.1" cy="173.2" r="2.95"/><circle cx="600.6" cy="177.4" r="2.95"/><circle cx="599.6" cy="180.7" r="2.95"/><circle cx="599.2" cy="183.7" r="2.95"/><circle cx="596.9" cy="187.4" r="2.95"/><circle cx="595.4" cy="190.3" r="2.95"/><circle cx="593.6" cy="192.9" r="2.95"/><circle cx="592.3" cy="196.2" r="2.95"/><circle cx="591.7" cy="200.2" r="2.95"/><circle cx="590.4" cy="204.3" r="2.95"/><circle cx="589.3" cy="207.4" r="2.95"/><circle cx="588.1" cy="211.3" r="2.95"/><circle cx="587.4" cy="214.0" r="2.95"/><circle cx="586.1" cy="218.0" r="2.95"/><circle cx="585.0" cy="222.1" r="2.95"/><circle cx="584.1" cy="225.5" r="2.95"/><circle cx="582.9" cy="229.4" r="2.95"/><circle cx="580.7" cy="232.1" r="2.95"/><circle cx="579.9" cy="235.9" r="2.95"/><circle cx="578.8" cy="239.1" r="2.95"/><circle cx="575.1" cy="241.8" r="2.95"/><circle cx="572.1" cy="243.9" r="2.95"/><circle cx="569.1" cy="246.2" r="2.95"/><circle cx="565.8" cy="249.1" r="2.95"/><circle cx="561.1" cy="250.9" r="2.95"/><circle cx="557.7" cy="253.6" r="2.95"/><circle cx="554.0" cy="255.0" r="2.95"/><circle cx="551.3" cy="257.7" r="2.95"/><circle cx="547.3" cy="259.8" r="2.95"/><circle cx="543.3" cy="261.8" r="2.95"/><circle cx="539.3" cy="264.3" r="2.95"/><circle cx="535.7" cy="266.5" r="2.95"/><circle cx="530.9" cy="269.1" r="2.95"/><circle cx="527.4" cy="272.2" r="2.95"/><circle cx="522.5" cy="275.5" r="2.95"/><circle cx="519.7" cy="277.6" r="2.95"/><circle cx="514.6" cy="281.2" r="2.95"/><circle cx="511.6" cy="283.4" r="2.95"/><circle cx="507.1" cy="287.4" r="2.95"/><circle cx="503.0" cy="289.7" r="2.95"/><circle cx="497.3" cy="292.6" r="2.95"/><circle cx="492.7" cy="296.3" r="2.95"/><circle cx="489.0" cy="298.4" r="2.95"/><circle cx="483.2" cy="301.0" r="2.95"/><circle cx="478.7" cy="304.1" r="2.95"/><circle cx="474.6" cy="306.8" r="2.95"/><circle cx="469.4" cy="308.7" r="2.95"/><circle cx="464.6" cy="310.7" r="2.95"/><circle cx="459.7" cy="313.2" r="2.95"/><circle cx="455.1" cy="314.6" r="2.95"/><circle cx="450.0" cy="316.1" r="2.95"/><circle cx="444.3" cy="318.1" r="2.95"/><circle cx="439.9" cy="319.2" r="2.95"/><circle cx="434.6" cy="321.2" r="2.95"/><circle cx="430.9" cy="323.1" r="2.95"/><circle cx="424.7" cy="323.4" r="2.95"/><circle cx="420.4" cy="324.3" r="2.95"/><circle cx="606.8" cy="67.1" r="2.95"/><circle cx="606.7" cy="69.5" r="2.95"/><circle cx="607.1" cy="73.4" r="2.95"/><circle cx="607.6" cy="76.3" r="2.95"/><circle cx="608.4" cy="78.4" r="2.95"/><circle cx="607.3" cy="81.7" r="2.95"/><circle cx="607.9" cy="85.3" r="2.95"/><circle cx="607.0" cy="87.9" r="2.95"/><circle cx="606.7" cy="91.0" r="2.95"/><circle cx="606.6" cy="93.7" r="2.95"/><circle cx="605.9" cy="97.6" r="2.95"/><circle cx="605.1" cy="100.7" r="2.95"/><circle cx="605.3" cy="102.7" r="2.95"/><circle cx="605.3" cy="105.8" r="2.95"/><circle cx="605.8" cy="108.7" r="2.95"/><circle cx="607.3" cy="111.3" r="2.95"/><circle cx="611.0" cy="112.9" r="2.95"/><circle cx="613.0" cy="114.3" r="2.95"/><circle cx="616.8" cy="115.1" r="2.95"/><circle cx="617.8" cy="117.1" r="2.95"/><circle cx="619.7" cy="120.0" r="2.95"/><circle cx="621.8" cy="123.2" r="2.95"/><circle cx="622.6" cy="125.5" r="2.95"/><circle cx="622.7" cy="129.6" r="2.95"/><circle cx="623.6" cy="132.0" r="2.95"/><circle cx="623.8" cy="134.9" r="2.95"/><circle cx="624.6" cy="138.8" r="2.95"/><circle cx="624.7" cy="142.1" r="2.95"/><circle cx="624.3" cy="144.6" r="2.95"/><circle cx="624.2" cy="148.3" r="2.95"/><circle cx="623.0" cy="151.4" r="2.95"/><circle cx="621.3" cy="154.0" r="2.95"/><circle cx="619.7" cy="157.2" r="2.95"/><circle cx="617.8" cy="159.7" r="2.95"/><circle cx="616.5" cy="162.6" r="2.95"/><circle cx="615.2" cy="165.8" r="2.95"/><circle cx="612.5" cy="168.8" r="2.95"/><circle cx="609.9" cy="170.9" r="2.95"/><circle cx="608.8" cy="174.2" r="2.95"/><circle cx="606.2" cy="176.6" r="2.95"/><circle cx="604.6" cy="179.6" r="2.95"/><circle cx="603.0" cy="183.1" r="2.95"/><circle cx="601.9" cy="186.2" r="2.95"/><circle cx="600.5" cy="189.2" r="2.95"/><circle cx="599.4" cy="192.7" r="2.95"/><circle cx="598.7" cy="196.5" r="2.95"/><circle cx="598.6" cy="199.0" r="2.95"/><circle cx="597.9" cy="203.3" r="2.95"/><circle cx="597.2" cy="207.3" r="2.95"/><circle cx="595.9" cy="210.2" r="2.95"/><circle cx="595.6" cy="214.4" r="2.95"/><circle cx="594.4" cy="217.4" r="2.95"/><circle cx="593.2" cy="221.1" r="2.95"/><circle cx="592.4" cy="224.6" r="2.95"/><circle cx="590.8" cy="228.2" r="2.95"/><circle cx="588.9" cy="230.7" r="2.95"/><circle cx="589.8" cy="235.3" r="2.95"/><circle cx="588.2" cy="237.7" r="2.95"/><circle cx="584.5" cy="240.8" r="2.95"/><circle cx="582.3" cy="242.1" r="2.95"/><circle cx="579.4" cy="244.8" r="2.95"/><circle cx="574.9" cy="246.7" r="2.95"/><circle cx="571.9" cy="248.2" r="2.95"/><circle cx="569.2" cy="251.3" r="2.95"/><circle cx="564.7" cy="252.7" r="2.95"/><circle cx="561.3" cy="255.0" r="2.95"/><circle cx="557.4" cy="256.5" r="2.95"/><circle cx="554.2" cy="258.8" r="2.95"/><circle cx="550.5" cy="261.0" r="2.95"/><circle cx="547.4" cy="263.6" r="2.95"/><circle cx="543.5" cy="265.5" r="2.95"/><circle cx="538.7" cy="266.9" r="2.95"/><circle cx="535.0" cy="269.6" r="2.95"/><circle cx="531.2" cy="271.5" r="2.95"/><circle cx="527.8" cy="273.8" r="2.95"/><circle cx="522.4" cy="276.0" r="2.95"/><circle cx="518.9" cy="279.8" r="2.95"/><circle cx="515.7" cy="281.7" r="2.95"/><circle cx="510.8" cy="284.9" r="2.95"/><circle cx="507.5" cy="288.8" r="2.95"/><circle cx="502.6" cy="290.7" r="2.95"/><circle cx="499.3" cy="294.8" r="2.95"/><circle cx="494.3" cy="296.6" r="2.95"/><circle cx="489.7" cy="299.5" r="2.95"/><circle cx="484.9" cy="301.4" r="2.95"/><circle cx="480.4" cy="304.6" r="2.95"/><circle cx="475.5" cy="307.0" r="2.95"/><circle cx="470.6" cy="309.6" r="2.95"/><circle cx="466.0" cy="310.7" r="2.95"/><circle cx="462.3" cy="313.7" r="2.95"/><circle cx="457.5" cy="315.3" r="2.95"/><circle cx="452.6" cy="317.0" r="2.95"/><circle cx="447.4" cy="317.6" r="2.95"/><circle cx="442.9" cy="320.2" r="2.95"/><circle cx="438.3" cy="320.5" r="2.95"/><circle cx="432.5" cy="322.8" r="2.95"/><circle cx="428.4" cy="324.1" r="2.95"/><circle cx="424.4" cy="324.4" r="2.95"/><circle cx="619.3" cy="45.7" r="2.95"/><circle cx="620.2" cy="48.4" r="2.95"/><circle cx="620.9" cy="51.9" r="2.95"/><circle cx="620.8" cy="54.8" r="2.95"/><circle cx="620.3" cy="57.9" r="2.95"/><circle cx="620.3" cy="61.0" r="2.95"/><circle cx="619.7" cy="63.7" r="2.95"/><circle cx="619.5" cy="66.9" r="2.95"/><circle cx="618.9" cy="70.0" r="2.95"/><circle cx="618.5" cy="73.3" r="2.95"/><circle cx="618.1" cy="76.3" r="2.95"/><circle cx="616.8" cy="79.5" r="2.95"/><circle cx="616.5" cy="82.4" r="2.95"/><circle cx="615.8" cy="85.1" r="2.95"/><circle cx="614.9" cy="87.9" r="2.95"/><circle cx="614.7" cy="91.0" r="2.95"/><circle cx="614.5" cy="94.6" r="2.95"/><circle cx="614.5" cy="97.5" r="2.95"/><circle cx="614.8" cy="101.0" r="2.95"/><circle cx="615.2" cy="104.2" r="2.95"/><circle cx="615.9" cy="106.6" r="2.95"/><circle cx="617.5" cy="109.9" r="2.95"/><circle cx="619.4" cy="112.8" r="2.95"/><circle cx="620.4" cy="115.3" r="2.95"/><circle cx="622.0" cy="118.8" r="2.95"/><circle cx="623.0" cy="121.9" r="2.95"/><circle cx="623.6" cy="125.3" r="2.95"/><circle cx="624.3" cy="128.3" r="2.95"/><circle cx="625.0" cy="131.4" r="2.95"/><circle cx="625.4" cy="134.5" r="2.95"/><circle cx="626.6" cy="138.1" r="2.95"/><circle cx="627.0" cy="140.9" r="2.95"/><circle cx="627.1" cy="144.1" r="2.95"/><circle cx="626.1" cy="147.6" r="2.95"/><circle cx="624.7" cy="150.9" r="2.95"/><circle cx="623.0" cy="154.1" r="2.95"/><circle cx="620.5" cy="157.3" r="2.95"/><circle cx="617.8" cy="160.2" r="2.95"/><circle cx="614.7" cy="163.0" r="2.95"/><circle cx="611.6" cy="167.4" r="2.95"/><circle cx="608.7" cy="171.7" r="2.95"/><circle cx="606.1" cy="176.2" r="2.95"/><circle cx="603.3" cy="180.9" r="2.95"/><circle cx="600.6" cy="185.6" r="2.95"/><circle cx="598.7" cy="190.3" r="2.95"/><circle cx="597.2" cy="194.4" r="2.95"/><circle cx="598.1" cy="198.1" r="2.95"/><circle cx="598.4" cy="201.1" r="2.95"/><circle cx="599.2" cy="205.1" r="2.95"/><circle cx="599.5" cy="208.5" r="2.95"/><circle cx="599.2" cy="211.9" r="2.95"/><circle cx="600.0" cy="215.4" r="2.95"/><circle cx="600.3" cy="219.1" r="2.95"/><circle cx="601.0" cy="222.0" r="2.95"/><circle cx="601.3" cy="225.6" r="2.95"/><circle cx="599.4" cy="229.2" r="2.95"/><circle cx="597.2" cy="231.8" r="2.95"/><circle cx="594.3" cy="234.7" r="2.95"/><circle cx="590.7" cy="237.0" r="2.95"/><circle cx="587.0" cy="239.6" r="2.95"/><circle cx="583.6" cy="243.4" r="2.95"/><circle cx="579.2" cy="247.0" r="2.95"/><circle cx="574.3" cy="250.1" r="2.95"/><circle cx="569.7" cy="253.7" r="2.95"/><circle cx="566.1" cy="258.2" r="2.95"/><circle cx="561.0" cy="262.1" r="2.95"/><circle cx="555.1" cy="265.3" r="2.95"/><circle cx="549.9" cy="268.6" r="2.95"/><circle cx="544.9" cy="271.1" r="2.95"/><circle cx="539.2" cy="273.2" r="2.95"/><circle cx="534.1" cy="275.7" r="2.95"/><circle cx="529.0" cy="279.0" r="2.95"/><circle cx="524.3" cy="281.0" r="2.95"/><circle cx="519.6" cy="283.9" r="2.95"/><circle cx="514.9" cy="286.4" r="2.95"/><circle cx="510.7" cy="288.6" r="2.95"/><circle cx="506.5" cy="290.8" r="2.95"/><circle cx="502.3" cy="293.5" r="2.95"/><circle cx="498.3" cy="295.6" r="2.95"/><circle cx="494.4" cy="297.3" r="2.95"/><circle cx="490.2" cy="300.0" r="2.95"/><circle cx="486.8" cy="302.0" r="2.95"/><circle cx="482.8" cy="303.3" r="2.95"/><circle cx="478.5" cy="304.9" r="2.95"/><circle cx="474.8" cy="306.9" r="2.95"/><circle cx="471.0" cy="308.1" r="2.95"/><circle cx="466.4" cy="309.6" r="2.95"/><circle cx="462.3" cy="310.9" r="2.95"/><circle cx="458.4" cy="312.5" r="2.95"/><circle cx="454.2" cy="314.1" r="2.95"/><circle cx="450.0" cy="315.2" r="2.95"/><circle cx="445.9" cy="315.8" r="2.95"/><circle cx="441.3" cy="317.3" r="2.95"/><circle cx="437.6" cy="318.1" r="2.95"/><circle cx="433.1" cy="319.4" r="2.95"/><circle cx="428.7" cy="321.0" r="2.95"/><circle cx="424.3" cy="321.7" r="2.95"/><circle cx="419.8" cy="323.4" r="2.95"/><circle cx="415.2" cy="324.7" r="2.95"/><circle cx="410.0" cy="325.4" r="2.95"/><circle cx="404.8" cy="327.2" r="2.95"/><circle cx="399.6" cy="328.0" r="2.95"/><circle cx="394.4" cy="329.4" r="2.95"/><circle cx="389.5" cy="329.8" r="2.95"/><circle cx="384.4" cy="330.8" r="2.95"/><circle cx="379.3" cy="331.8" r="2.95"/><circle cx="374.2" cy="331.8" r="2.95"/><circle cx="419.4" cy="324.7" r="2.95"/><circle cx="414.1" cy="326.5" r="2.95"/><circle cx="408.8" cy="327.8" r="2.95"/><circle cx="403.5" cy="328.7" r="2.95"/><circle cx="398.5" cy="329.5" r="2.95"/><circle cx="393.0" cy="330.5" r="2.95"/><circle cx="387.8" cy="331.5" r="2.95"/><circle cx="382.4" cy="331.6" r="2.95"/><circle cx="420.6" cy="321.3" r="2.95"/><circle cx="416.0" cy="322.5" r="2.95"/><circle cx="411.2" cy="323.8" r="2.95"/><circle cx="406.8" cy="324.6" r="2.95"/><circle cx="401.9" cy="326.3" r="2.95"/><circle cx="397.7" cy="327.5" r="2.95"/><circle cx="392.8" cy="328.7" r="2.95"/><circle cx="388.0" cy="329.6" r="2.95"/><circle cx="383.8" cy="330.5" r="2.95"/><circle cx="370.3" cy="331.9" r="2.95"/><circle cx="373.5" cy="332.6" r="2.95"/></g>
<g fill="#0000ff" stroke="#fff" stroke-width="0.5"><circle cx="375.3" cy="329.1" r="2.95"/><circle cx="373.2" cy="327.1" r="2.95"/><circle cx="370.4" cy="325.5" r="2.95"/><circle cx="367.5" cy="323.9" r="2.95"/><circle cx="364.3" cy="322.4" r="2.95"/><circle cx="361.8" cy="321.2" r="2.95"/><circle cx="358.3" cy="319.7" r="2.95"/><circle cx="355.5" cy="318.9" r="2.95"/><circle cx="352.3" cy="317.5" r="2.95"/><circle cx="349.5" cy="315.8" r="2.95"/><circle cx="346.8" cy="314.4" r="2.95"/><circle cx="343.5" cy="313.1" r="2.95"/><circle cx="341.1" cy="311.7" r="2.95"/><circle cx="338.3" cy="310.3" r="2.95"/><circle cx="336.3" cy="308.6" r="2.95"/><circle cx="333.8" cy="306.7" r="2.95"/><circle cx="332.0" cy="304.4" r="2.95"/><circle cx="329.8" cy="302.4" r="2.95"/><circle cx="328.6" cy="300.3" r="2.95"/><circle cx="327.9" cy="298.7" r="2.95"/><circle cx="327.7" cy="296.4" r="2.95"/><circle cx="327.6" cy="294.3" r="2.95"/><circle cx="328.7" cy="292.3" r="2.95"/><circle cx="329.0" cy="291.1" r="2.95"/><circle cx="329.9" cy="289.3" r="2.95"/><circle cx="330.5" cy="287.6" r="2.95"/><circle cx="331.8" cy="285.7" r="2.95"/><circle cx="333.0" cy="283.3" r="2.95"/><circle cx="334.5" cy="281.4" r="2.95"/><circle cx="336.0" cy="279.0" r="2.95"/><circle cx="338.2" cy="276.2" r="2.95"/><circle cx="341.3" cy="274.7" r="2.95"/><circle cx="345.0" cy="273.5" r="2.95"/><circle cx="349.4" cy="272.4" r="2.95"/><circle cx="353.4" cy="270.4" r="2.95"/><circle cx="357.8" cy="267.9" r="2.95"/><circle cx="362.6" cy="265.6" r="2.95"/><circle cx="366.8" cy="263.4" r="2.95"/><circle cx="372.2" cy="261.3" r="2.95"/><circle cx="377.3" cy="259.3" r="2.95"/><circle cx="382.5" cy="256.5" r="2.95"/><circle cx="387.2" cy="253.9" r="2.95"/><circle cx="392.6" cy="251.5" r="2.95"/><circle cx="397.6" cy="249.0" r="2.95"/><circle cx="403.1" cy="246.4" r="2.95"/><circle cx="408.7" cy="244.8" r="2.95"/><circle cx="414.1" cy="242.9" r="2.95"/><circle cx="419.6" cy="240.7" r="2.95"/><circle cx="424.8" cy="238.2" r="2.95"/><circle cx="430.2" cy="235.3" r="2.95"/><circle cx="435.1" cy="231.9" r="2.95"/><circle cx="440.4" cy="228.6" r="2.95"/><circle cx="444.8" cy="225.5" r="2.95"/><circle cx="449.9" cy="221.7" r="2.95"/><circle cx="453.9" cy="218.1" r="2.95"/><circle cx="459.1" cy="214.3" r="2.95"/><circle cx="463.4" cy="210.9" r="2.95"/><circle cx="467.9" cy="207.2" r="2.95"/><circle cx="472.4" cy="204.0" r="2.95"/><circle cx="477.0" cy="200.2" r="2.95"/><circle cx="481.2" cy="196.5" r="2.95"/><circle cx="485.3" cy="193.0" r="2.95"/><circle cx="490.1" cy="189.0" r="2.95"/><circle cx="494.4" cy="185.3" r="2.95"/><circle cx="498.6" cy="181.5" r="2.95"/><circle cx="502.9" cy="178.1" r="2.95"/><circle cx="507.1" cy="174.1" r="2.95"/><circle cx="511.3" cy="170.9" r="2.95"/><circle cx="515.3" cy="167.6" r="2.95"/><circle cx="519.3" cy="163.8" r="2.95"/><circle cx="522.5" cy="160.8" r="2.95"/><circle cx="525.9" cy="156.7" r="2.95"/><circle cx="529.0" cy="153.5" r="2.95"/><circle cx="531.8" cy="149.9" r="2.95"/><circle cx="534.6" cy="146.6" r="2.95"/><circle cx="538.0" cy="142.9" r="2.95"/><circle cx="541.5" cy="140.4" r="2.95"/><circle cx="544.8" cy="138.0" r="2.95"/><circle cx="547.8" cy="135.4" r="2.95"/><circle cx="550.5" cy="132.5" r="2.95"/><circle cx="552.7" cy="130.3" r="2.95"/><circle cx="554.4" cy="127.9" r="2.95"/><circle cx="556.5" cy="125.4" r="2.95"/><circle cx="558.6" cy="123.0" r="2.95"/><circle cx="559.9" cy="121.2" r="2.95"/><circle cx="561.3" cy="119.3" r="2.95"/><circle cx="563.5" cy="117.6" r="2.95"/><circle cx="564.8" cy="116.2" r="2.95"/><circle cx="566.8" cy="114.5" r="2.95"/><circle cx="568.1" cy="112.8" r="2.95"/><circle cx="569.8" cy="110.5" r="2.95"/><circle cx="570.9" cy="108.6" r="2.95"/><circle cx="572.0" cy="106.9" r="2.95"/><circle cx="573.9" cy="105.2" r="2.95"/><circle cx="574.5" cy="102.8" r="2.95"/><circle cx="575.8" cy="101.2" r="2.95"/><circle cx="577.0" cy="99.1" r="2.95"/><circle cx="577.5" cy="97.0" r="2.95"/><circle cx="578.2" cy="94.5" r="2.95"/><circle cx="579.2" cy="92.3" r="2.95"/><circle cx="579.1" cy="89.9" r="2.95"/><circle cx="579.5" cy="87.2" r="2.95"/><circle cx="579.7" cy="85.1" r="2.95"/><circle cx="580.2" cy="82.7" r="2.95"/><circle cx="580.4" cy="80.7" r="2.95"/><circle cx="580.3" cy="78.0" r="2.95"/><circle cx="580.9" cy="75.9" r="2.95"/><circle cx="580.6" cy="73.3" r="2.95"/><circle cx="581.4" cy="71.3" r="2.95"/><circle cx="581.1" cy="68.7" r="2.95"/><circle cx="581.6" cy="66.7" r="2.95"/><circle cx="581.5" cy="64.1" r="2.95"/><circle cx="581.4" cy="61.8" r="2.95"/><circle cx="581.3" cy="59.6" r="2.95"/><circle cx="581.5" cy="57.4" r="2.95"/><circle cx="581.6" cy="54.9" r="2.95"/><circle cx="582.1" cy="52.9" r="2.95"/><circle cx="583.6" cy="51.1" r="2.95"/><circle cx="585.7" cy="50.5" r="2.95"/><circle cx="588.1" cy="50.7" r="2.95"/><circle cx="590.4" cy="51.2" r="2.95"/><circle cx="592.7" cy="52.0" r="2.95"/><circle cx="594.8" cy="53.3" r="2.95"/><circle cx="596.4" cy="55.0" r="2.95"/><circle cx="597.8" cy="56.4" r="2.95"/><circle cx="598.7" cy="58.6" r="2.95"/><circle cx="598.1" cy="61.3" r="2.95"/><circle cx="596.7" cy="63.0" r="2.95"/><circle cx="595.8" cy="64.7" r="2.95"/><circle cx="594.3" cy="66.6" r="2.95"/><circle cx="593.5" cy="68.7" r="2.95"/><circle cx="592.4" cy="71.0" r="2.95"/><circle cx="592.2" cy="73.6" r="2.95"/></g>
<rect x="412.9" y="248.8" width="45" height="106.8" fill="#808080" fill-opacity="0.7"/>
<rect x="554" y="41.8" width="61.3" height="60.7" fill="none" stroke="#008000" stroke-width="4.6"/>
<circle cx="377.2" cy="331.7" r="5.4" fill="#000"/>
<g font-size="21"><text x="267.1" y="340.9" text-anchor="end">0.00</text><text x="267.1" y="289.7" text-anchor="end">0.05</text><text x="267.1" y="238.5" text-anchor="end">0.10</text><text x="267.1" y="187.3" text-anchor="end">0.15</text><text x="267.1" y="136.1" text-anchor="end">0.20</text><text x="267.1" y="84.9" text-anchor="end">0.25</text><text x="267.1" y="33.7" text-anchor="end">0.30</text><text x="276.5" y="393.8" text-anchor="middle">−0.1</text><text x="377.4" y="393.8" text-anchor="middle">0.0</text><text x="478.3" y="393.8" text-anchor="middle">0.1</text><text x="579.2" y="393.8" text-anchor="middle">0.2</text></g>
<text x="460.5" y="418.8" font-size="23.7" text-anchor="middle">Displacement (meters)</text>
<text transform="translate(218.1,186.7) rotate(-90)" font-size="23.7" text-anchor="middle">Displacement (meters)</text>
<text x="185" y="21.3" font-weight="bold" font-size="27.5" style="font-family:'Liberation Serif',serif;fill:#000">(B)</text>
<text x="6" y="23.2" font-weight="bold" font-size="27.5" style="font-family:'Liberation Serif',serif;fill:#000">(A)</text>
</svg>
</body></html>
